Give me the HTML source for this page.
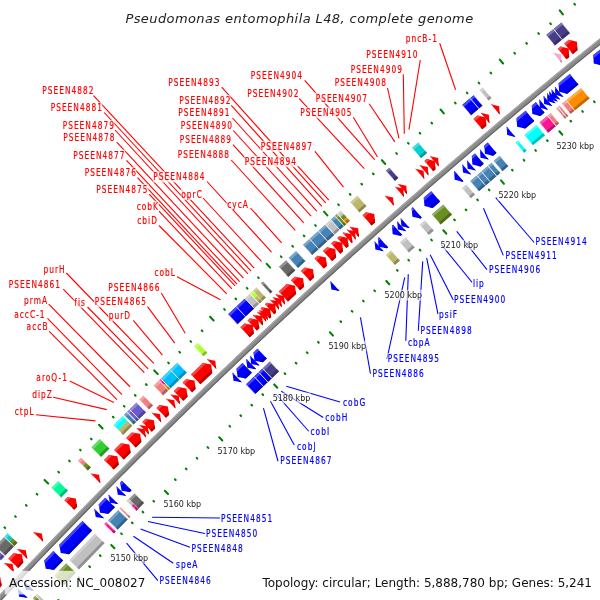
<!DOCTYPE html>
<html><head><meta charset="utf-8"><style>
body{margin:0;background:#fff}
svg{display:block}
.lab text{font-family:"DejaVu Sans Condensed","DejaVu Sans",sans-serif;font-size:9.6px;font-stretch:condensed;letter-spacing:1.2px;stroke-width:0.18px}
.kbp text{font-family:"DejaVu Sans",sans-serif;font-size:8px;fill:#222}
.leg{font-family:"DejaVu Sans",sans-serif;font-size:12px;fill:#111}
.ttl{font-family:"DejaVu Sans",sans-serif;font-style:oblique;font-size:13px;fill:#222;letter-spacing:0.4px}
</style></head><body>
<svg xmlns="http://www.w3.org/2000/svg" width="600" height="600" viewBox="0 0 600 600">
<rect width="600" height="600" fill="#fff"/>
<polygon points="-79.74,680.85 -77.17,678.00 -74.59,675.15 -72.01,672.30 -69.43,669.45 -66.84,666.61 -64.26,663.76 -61.67,660.92 -59.08,658.08 -56.49,655.24 -53.90,652.40 -51.30,649.57 -48.70,646.73 -46.11,643.90 -43.50,641.07 -40.90,638.24 -38.30,635.41 -35.69,632.59 -33.08,629.76 -30.47,626.94 -27.86,624.12 -25.25,621.30 -22.63,618.48 -20.02,615.67 -17.40,612.85 -14.78,610.04 -12.15,607.23 -9.53,604.42 -6.90,601.61 -4.28,598.81 -1.65,596.00 0.99,593.20 3.62,590.40 6.25,587.60 8.89,584.81 11.53,582.01 14.17,579.22 16.81,576.43 19.46,573.64 22.10,570.85 24.75,568.06 27.40,565.28 30.05,562.49 32.71,559.71 35.36,556.93 38.02,554.16 40.68,551.38 43.34,548.60 46.00,545.83 48.67,543.06 51.33,540.29 54.00,537.52 56.67,534.76 59.34,531.99 62.01,529.23 64.69,526.47 67.37,523.71 70.04,520.96 72.73,518.20 75.41,515.45 78.09,512.69 80.78,509.94 83.47,507.20 86.15,504.45 88.85,501.70 91.54,498.96 94.23,496.22 96.93,493.48 99.63,490.74 102.33,488.01 105.03,485.27 107.73,482.54 110.44,479.81 113.15,477.08 115.86,474.35 118.57,471.63 121.28,468.90 123.99,466.18 126.71,463.46 129.43,460.74 132.15,458.02 134.87,455.31 137.59,452.60 140.32,449.89 143.04,447.18 145.77,444.47 148.50,441.76 151.23,439.06 153.97,436.35 156.70,433.65 159.44,430.95 162.18,428.26 164.92,425.56 167.66,422.87 170.41,420.18 173.15,417.49 175.90,414.80 178.65,412.11 181.40,409.43 184.15,406.74 186.91,404.06 189.66,401.38 192.42,398.71 195.18,396.03 197.94,393.36 200.71,390.68 203.47,388.01 206.24,385.35 209.01,382.68 211.78,380.01 214.55,377.35 217.32,374.69 220.10,372.03 222.88,369.37 225.66,366.72 228.44,364.06 231.22,361.41 234.00,358.76 236.79,356.11 239.58,353.46 242.37,350.82 245.16,348.17 247.95,345.53 250.74,342.89 253.54,340.26 256.34,337.62 259.14,334.99 261.94,332.35 264.74,329.72 267.55,327.09 270.35,324.47 273.16,321.84 275.97,319.22 278.78,316.60 281.60,313.98 284.41,311.36 287.23,308.74 290.05,306.13 292.87,303.52 295.69,300.91 298.51,298.30 301.34,295.69 304.16,293.09 306.99,290.48 309.82,287.88 312.65,285.28 315.49,282.68 318.32,280.09 321.16,277.50 324.00,274.90 326.84,272.31 329.68,269.72 332.53,267.14 335.37,264.55 338.22,261.97 341.07,259.39 343.92,256.81 346.77,254.23 349.62,251.66 352.48,249.08 355.34,246.51 358.19,243.94 361.06,241.37 363.92,238.81 366.78,236.24 369.65,233.68 372.51,231.12 375.38,228.56 378.25,226.01 381.13,223.45 384.00,220.90 386.87,218.35 389.75,215.80 392.63,213.25 395.51,210.70 398.39,208.16 401.28,205.62 404.16,203.08 407.05,200.54 409.94,198.01 412.83,195.47 415.72,192.94 418.61,190.41 421.51,187.88 424.41,185.35 427.31,182.83 430.21,180.30 433.11,177.78 436.01,175.26 438.92,172.75 441.82,170.23 444.73,167.72 447.64,165.21 450.55,162.70 453.47,160.19 456.38,157.68 459.30,155.18 462.22,152.68 465.14,150.18 468.06,147.68 470.98,145.18 473.90,142.69 476.83,140.19 479.76,137.70 482.69,135.21 485.62,132.73 488.55,130.24 491.49,127.76 494.42,125.28 497.36,122.80 500.30,120.32 503.24,117.84 506.18,115.37 509.13,112.90 512.07,110.43 515.02,107.96 517.97,105.50 520.92,103.03 523.87,100.57 526.83,98.11 529.78,95.65 532.74,93.19 535.70,90.74 538.66,88.29 541.62,85.84 544.58,83.39 547.55,80.94 550.51,78.50 553.48,76.05 556.45,73.61 559.42,71.17 562.39,68.74 565.37,66.30 568.34,63.87 571.32,61.44 574.30,59.01 577.28,56.58 580.26,54.16 583.25,51.73 586.23,49.31 589.22,46.89 592.21,44.47 595.20,42.06 598.19,39.64 601.18,37.23 604.18,34.82 607.18,32.41 610.17,30.01 613.17,27.60 616.17,25.20 619.18,22.80 622.18,20.40 625.19,18.01 628.19,15.61 631.20,13.22 634.21,10.83 637.23,8.44 640.24,6.05 643.25,3.67 646.27,1.29 649.29,-1.09 652.31,-3.47 655.33,-5.85 658.35,-8.22 661.38,-10.60 664.40,-12.97 667.43,-15.34 670.46,-17.70 673.49,-20.07 676.52,-22.43 679.56,-24.79 682.59,-27.15 685.63,-29.51 688.67,-31.86 691.71,-34.22 694.75,-36.57 697.79,-38.92 700.83,-41.26 703.88,-43.61 706.93,-45.95 709.98,-48.29 713.03,-50.63 716.08,-52.97 719.13,-55.30 722.19,-57.64 725.24,-59.97 728.30,-62.30 731.36,-64.62 734.42,-66.95 737.48,-69.27 740.55,-71.59 743.75,-67.37 740.69,-65.05 737.63,-62.73 734.57,-60.41 731.51,-58.08 728.46,-55.75 725.40,-53.42 722.35,-51.09 719.30,-48.76 716.25,-46.42 713.20,-44.09 710.16,-41.75 707.11,-39.41 704.07,-37.06 701.03,-34.72 697.99,-32.37 694.95,-30.02 691.91,-27.67 688.88,-25.32 685.84,-22.96 682.81,-20.61 679.78,-18.25 676.75,-15.89 673.72,-13.53 670.69,-11.16 667.67,-8.79 664.65,-6.43 661.63,-4.05 658.61,-1.68 655.59,0.69 652.57,3.07 649.55,5.45 646.54,7.83 643.53,10.21 640.52,12.59 637.51,14.98 634.50,17.37 631.49,19.76 628.49,22.15 625.49,24.55 622.48,26.94 619.48,29.34 616.49,31.74 613.49,34.14 610.49,36.55 607.50,38.95 604.51,41.36 601.52,43.77 598.53,46.18 595.54,48.59 592.55,51.01 589.57,53.43 586.59,55.85 583.61,58.27 580.63,60.69 577.65,63.12 574.67,65.54 571.70,67.97 568.72,70.40 565.75,72.84 562.78,75.27 559.81,77.71 556.85,80.15 553.88,82.59 550.92,85.03 547.96,87.48 545.00,89.92 542.04,92.37 539.08,94.82 536.12,97.27 533.17,99.73 530.22,102.18 527.26,104.64 524.32,107.10 521.37,109.56 518.42,112.03 515.48,114.49 512.53,116.96 509.59,119.43 506.65,121.90 503.71,124.37 500.78,126.85 497.84,129.33 494.91,131.81 491.98,134.29 489.05,136.77 486.12,139.25 483.19,141.74 480.27,144.23 477.34,146.72 474.42,149.21 471.50,151.71 468.58,154.20 465.66,156.70 462.75,159.20 459.83,161.70 456.92,164.21 454.01,166.71 451.10,169.22 448.20,171.73 445.29,174.24 442.39,176.75 439.48,179.27 436.58,181.79 433.68,184.30 430.78,186.83 427.89,189.35 424.99,191.87 422.10,194.40 419.21,196.93 416.32,199.46 413.43,201.99 410.55,204.52 407.66,207.06 404.78,209.60 401.90,212.14 399.02,214.68 396.14,217.22 393.27,219.77 390.39,222.31 387.52,224.86 384.65,227.41 381.78,229.97 378.91,232.52 376.04,235.08 373.18,237.63 370.32,240.19 367.45,242.76 364.59,245.32 361.74,247.89 358.88,250.45 356.03,253.02 353.17,255.59 350.32,258.17 347.47,260.74 344.62,263.32 341.78,265.90 338.93,268.48 336.09,271.06 333.25,273.64 330.41,276.23 327.57,278.82 324.74,281.41 321.90,284.00 319.07,286.59 316.24,289.19 313.41,291.79 310.58,294.38 307.75,296.98 304.93,299.59 302.11,302.19 299.29,304.80 296.47,307.41 293.65,310.02 290.83,312.63 288.02,315.24 285.21,317.86 282.40,320.47 279.59,323.09 276.78,325.71 273.97,328.34 271.17,330.96 268.37,333.59 265.57,336.22 262.77,338.85 259.97,341.48 257.18,344.11 254.38,346.75 251.59,349.38 248.80,352.02 246.01,354.66 243.22,357.31 240.44,359.95 237.66,362.60 234.87,365.25 232.09,367.90 229.32,370.55 226.54,373.20 223.77,375.86 220.99,378.51 218.22,381.17 215.45,383.83 212.68,386.50 209.92,389.16 207.15,391.83 204.39,394.50 201.63,397.17 198.87,399.84 196.11,402.51 193.36,405.19 190.60,407.86 187.85,410.54 185.10,413.22 182.35,415.90 179.60,418.59 176.86,421.27 174.12,423.96 171.37,426.65 168.63,429.34 165.90,432.04 163.16,434.73 160.42,437.43 157.69,440.13 154.96,442.83 152.23,445.53 149.50,448.23 146.78,450.94 144.05,453.64 141.33,456.35 138.61,459.06 135.89,461.78 133.17,464.49 130.46,467.21 127.74,469.92 125.03,472.64 122.32,475.37 119.61,478.09 116.91,480.81 114.20,483.54 111.50,486.27 108.80,489.00 106.10,491.73 103.40,494.46 100.71,497.20 98.01,499.94 95.32,502.68 92.63,505.42 89.94,508.16 87.25,510.90 84.57,513.65 81.88,516.40 79.20,519.15 76.52,521.90 73.85,524.65 71.17,527.40 68.49,530.16 65.82,532.92 63.15,535.68 60.48,538.44 57.81,541.20 55.15,543.97 52.49,546.74 49.82,549.50 47.16,552.27 44.50,555.05 41.85,557.82 39.19,560.60 36.54,563.37 33.89,566.15 31.24,568.93 28.59,571.71 25.95,574.50 23.30,577.28 20.66,580.07 18.02,582.86 15.38,585.65 12.75,588.44 10.11,591.24 7.48,594.03 4.85,596.83 2.22,599.63 -0.41,602.43 -3.04,605.24 -5.66,608.04 -8.28,610.85 -10.90,613.66 -13.52,616.46 -16.14,619.28 -18.75,622.09 -21.36,624.90 -23.97,627.72 -26.58,630.54 -29.19,633.36 -31.80,636.18 -34.40,639.00 -37.00,641.83 -39.60,644.66 -42.20,647.48 -44.80,650.31 -47.39,653.15 -49.98,655.98 -52.58,658.81 -55.16,661.65 -57.75,664.49 -60.34,667.33 -62.92,670.17 -65.50,673.01 -68.08,675.86 -70.66,678.71 -73.24,681.56 -75.81,684.41" fill="#8c8c8c"/>
<polygon points="-79.74,680.85 -77.17,678.00 -74.59,675.15 -72.01,672.30 -69.43,669.45 -66.84,666.61 -64.26,663.76 -61.67,660.92 -59.08,658.08 -56.49,655.24 -53.90,652.40 -51.30,649.57 -48.70,646.73 -46.11,643.90 -43.50,641.07 -40.90,638.24 -38.30,635.41 -35.69,632.59 -33.08,629.76 -30.47,626.94 -27.86,624.12 -25.25,621.30 -22.63,618.48 -20.02,615.67 -17.40,612.85 -14.78,610.04 -12.15,607.23 -9.53,604.42 -6.90,601.61 -4.28,598.81 -1.65,596.00 0.99,593.20 3.62,590.40 6.25,587.60 8.89,584.81 11.53,582.01 14.17,579.22 16.81,576.43 19.46,573.64 22.10,570.85 24.75,568.06 27.40,565.28 30.05,562.49 32.71,559.71 35.36,556.93 38.02,554.16 40.68,551.38 43.34,548.60 46.00,545.83 48.67,543.06 51.33,540.29 54.00,537.52 56.67,534.76 59.34,531.99 62.01,529.23 64.69,526.47 67.37,523.71 70.04,520.96 72.73,518.20 75.41,515.45 78.09,512.69 80.78,509.94 83.47,507.20 86.15,504.45 88.85,501.70 91.54,498.96 94.23,496.22 96.93,493.48 99.63,490.74 102.33,488.01 105.03,485.27 107.73,482.54 110.44,479.81 113.15,477.08 115.86,474.35 118.57,471.63 121.28,468.90 123.99,466.18 126.71,463.46 129.43,460.74 132.15,458.02 134.87,455.31 137.59,452.60 140.32,449.89 143.04,447.18 145.77,444.47 148.50,441.76 151.23,439.06 153.97,436.35 156.70,433.65 159.44,430.95 162.18,428.26 164.92,425.56 167.66,422.87 170.41,420.18 173.15,417.49 175.90,414.80 178.65,412.11 181.40,409.43 184.15,406.74 186.91,404.06 189.66,401.38 192.42,398.71 195.18,396.03 197.94,393.36 200.71,390.68 203.47,388.01 206.24,385.35 209.01,382.68 211.78,380.01 214.55,377.35 217.32,374.69 220.10,372.03 222.88,369.37 225.66,366.72 228.44,364.06 231.22,361.41 234.00,358.76 236.79,356.11 239.58,353.46 242.37,350.82 245.16,348.17 247.95,345.53 250.74,342.89 253.54,340.26 256.34,337.62 259.14,334.99 261.94,332.35 264.74,329.72 267.55,327.09 270.35,324.47 273.16,321.84 275.97,319.22 278.78,316.60 281.60,313.98 284.41,311.36 287.23,308.74 290.05,306.13 292.87,303.52 295.69,300.91 298.51,298.30 301.34,295.69 304.16,293.09 306.99,290.48 309.82,287.88 312.65,285.28 315.49,282.68 318.32,280.09 321.16,277.50 324.00,274.90 326.84,272.31 329.68,269.72 332.53,267.14 335.37,264.55 338.22,261.97 341.07,259.39 343.92,256.81 346.77,254.23 349.62,251.66 352.48,249.08 355.34,246.51 358.19,243.94 361.06,241.37 363.92,238.81 366.78,236.24 369.65,233.68 372.51,231.12 375.38,228.56 378.25,226.01 381.13,223.45 384.00,220.90 386.87,218.35 389.75,215.80 392.63,213.25 395.51,210.70 398.39,208.16 401.28,205.62 404.16,203.08 407.05,200.54 409.94,198.01 412.83,195.47 415.72,192.94 418.61,190.41 421.51,187.88 424.41,185.35 427.31,182.83 430.21,180.30 433.11,177.78 436.01,175.26 438.92,172.75 441.82,170.23 444.73,167.72 447.64,165.21 450.55,162.70 453.47,160.19 456.38,157.68 459.30,155.18 462.22,152.68 465.14,150.18 468.06,147.68 470.98,145.18 473.90,142.69 476.83,140.19 479.76,137.70 482.69,135.21 485.62,132.73 488.55,130.24 491.49,127.76 494.42,125.28 497.36,122.80 500.30,120.32 503.24,117.84 506.18,115.37 509.13,112.90 512.07,110.43 515.02,107.96 517.97,105.50 520.92,103.03 523.87,100.57 526.83,98.11 529.78,95.65 532.74,93.19 535.70,90.74 538.66,88.29 541.62,85.84 544.58,83.39 547.55,80.94 550.51,78.50 553.48,76.05 556.45,73.61 559.42,71.17 562.39,68.74 565.37,66.30 568.34,63.87 571.32,61.44 574.30,59.01 577.28,56.58 580.26,54.16 583.25,51.73 586.23,49.31 589.22,46.89 592.21,44.47 595.20,42.06 598.19,39.64 601.18,37.23 604.18,34.82 607.18,32.41 610.17,30.01 613.17,27.60 616.17,25.20 619.18,22.80 622.18,20.40 625.19,18.01 628.19,15.61 631.20,13.22 634.21,10.83 637.23,8.44 640.24,6.05 643.25,3.67 646.27,1.29 649.29,-1.09 652.31,-3.47 655.33,-5.85 658.35,-8.22 661.38,-10.60 664.40,-12.97 667.43,-15.34 670.46,-17.70 673.49,-20.07 676.52,-22.43 679.56,-24.79 682.59,-27.15 685.63,-29.51 688.67,-31.86 691.71,-34.22 694.75,-36.57 697.79,-38.92 700.83,-41.26 703.88,-43.61 706.93,-45.95 709.98,-48.29 713.03,-50.63 716.08,-52.97 719.13,-55.30 722.19,-57.64 725.24,-59.97 728.30,-62.30 731.36,-64.62 734.42,-66.95 737.48,-69.27 740.55,-71.59 741.25,-70.67 738.19,-68.34 735.13,-66.02 732.07,-63.70 729.01,-61.37 725.95,-59.04 722.89,-56.71 719.84,-54.38 716.79,-52.04 713.74,-49.71 710.69,-47.37 707.64,-45.03 704.59,-42.68 701.55,-40.34 698.50,-37.99 695.46,-35.64 692.42,-33.29 689.38,-30.94 686.34,-28.59 683.31,-26.23 680.27,-23.87 677.24,-21.51 674.21,-19.15 671.18,-16.78 668.15,-14.42 665.12,-12.05 662.10,-9.68 659.07,-7.31 656.05,-4.93 653.03,-2.56 650.01,-0.18 646.99,2.20 643.98,4.58 640.96,6.97 637.95,9.35 634.94,11.74 631.93,14.13 628.92,16.52 625.91,18.92 622.91,21.31 619.90,23.71 616.90,26.11 613.90,28.51 610.90,30.92 607.91,33.32 604.91,35.73 601.92,38.14 598.92,40.55 595.93,42.96 592.94,45.38 589.95,47.80 586.97,50.22 583.98,52.64 581.00,55.06 578.02,57.48 575.04,59.91 572.06,62.34 569.08,64.77 566.11,67.20 563.13,69.64 560.16,72.08 557.19,74.51 554.22,76.95 551.25,79.40 548.29,81.84 545.32,84.29 542.36,86.74 539.40,89.19 536.44,91.64 533.48,94.09 530.53,96.55 527.57,99.01 524.62,101.47 521.67,103.93 518.72,106.39 515.77,108.86 512.82,111.32 509.88,113.79 506.93,116.26 503.99,118.74 501.05,121.21 498.11,123.69 495.18,126.17 492.24,128.65 489.31,131.13 486.37,133.62 483.44,136.10 480.51,138.59 477.59,141.08 474.66,143.57 471.74,146.07 468.81,148.56 465.89,151.06 462.97,153.56 460.06,156.06 457.14,158.57 454.23,161.07 451.31,163.58 448.40,166.09 445.49,168.60 442.59,171.11 439.68,173.63 436.77,176.15 433.87,178.66 430.97,181.18 428.07,183.71 425.17,186.23 422.28,188.76 419.38,191.29 416.49,193.82 413.60,196.35 410.71,198.88 407.82,201.42 404.93,203.95 402.05,206.49 399.16,209.04 396.28,211.58 393.40,214.12 390.52,216.67 387.65,219.22 384.77,221.77 381.90,224.32 379.03,226.88 376.16,229.43 373.29,231.99 370.42,234.55 367.56,237.11 364.70,239.68 361.83,242.24 358.97,244.81 356.12,247.38 353.26,249.95 350.40,252.52 347.55,255.10 344.70,257.68 341.85,260.25 339.00,262.83 336.15,265.42 333.31,268.00 330.47,270.59 327.63,273.17 324.79,275.76 321.95,278.36 319.11,280.95 316.28,283.54 313.44,286.14 310.61,288.74 307.78,291.34 304.95,293.94 302.13,296.55 299.30,299.15 296.48,301.76 293.66,304.37 290.84,306.98 288.02,309.60 285.21,312.21 282.39,314.83 279.58,317.45 276.77,320.07 273.96,322.69 271.15,325.32 268.34,327.94 265.54,330.57 262.74,333.20 259.94,335.83 257.14,338.47 254.34,341.10 251.54,343.74 248.75,346.38 245.96,349.02 243.17,351.66 240.38,354.31 237.59,356.95 234.81,359.60 232.02,362.25 229.24,364.91 226.46,367.56 223.68,370.21 220.91,372.87 218.13,375.53 215.36,378.19 212.59,380.85 209.82,383.52 207.05,386.18 204.28,388.85 201.52,391.52 198.75,394.19 195.99,396.87 193.23,399.54 190.48,402.22 187.72,404.90 184.97,407.58 182.21,410.26 179.46,412.95 176.71,415.63 173.97,418.32 171.22,421.01 168.48,423.70 165.74,426.39 163.00,429.09 160.26,431.79 157.52,434.48 154.79,437.18 152.05,439.89 149.32,442.59 146.59,445.30 143.86,448.00 141.14,450.71 138.41,453.42 135.69,456.14 132.97,458.85 130.25,461.57 127.53,464.28 124.82,467.00 122.10,469.73 119.39,472.45 116.68,475.17 113.97,477.90 111.27,480.63 108.56,483.36 105.86,486.09 103.16,488.83 100.46,491.56 97.76,494.30 95.06,497.04 92.37,499.78 89.68,502.52 86.99,505.27 84.30,508.01 81.61,510.76 78.93,513.51 76.24,516.26 73.56,519.01 70.88,521.77 68.20,524.52 65.53,527.28 62.85,530.04 60.18,532.80 57.51,535.57 54.84,538.33 52.17,541.10 49.51,543.87 46.84,546.64 44.18,549.41 41.52,552.19 38.86,554.96 36.21,557.74 33.55,560.52 30.90,563.30 28.25,566.08 25.60,568.87 22.95,571.65 20.30,574.44 17.66,577.23 15.02,580.02 12.38,582.81 9.74,585.61 7.10,588.40 4.47,591.20 1.83,594.00 -0.80,596.80 -3.43,599.61 -6.05,602.41 -8.68,605.22 -11.30,608.03 -13.92,610.84 -16.54,613.65 -19.16,616.46 -21.78,619.28 -24.39,622.09 -27.01,624.91 -29.62,627.73 -32.23,630.55 -34.84,633.38 -37.44,636.20 -40.04,639.03 -42.65,641.86 -45.25,644.69 -47.84,647.52 -50.44,650.35 -53.04,653.19 -55.63,656.03 -58.22,658.87 -60.81,661.71 -63.39,664.55 -65.98,667.39 -68.56,670.24 -71.15,673.08 -73.73,675.93 -76.30,678.78 -78.88,681.64" fill="#a8a8a8"/>
<polygon points="-76.79,683.52 -74.22,680.67 -71.64,677.82 -69.06,674.97 -66.48,672.12 -63.90,669.28 -61.32,666.44 -58.73,663.60 -56.14,660.76 -53.55,657.92 -50.96,655.08 -48.37,652.25 -45.77,649.42 -43.18,646.59 -40.58,643.76 -37.98,640.93 -35.38,638.11 -32.77,635.28 -30.16,632.46 -27.56,629.64 -24.95,626.82 -22.34,624.00 -19.72,621.19 -17.11,618.37 -14.49,615.56 -11.87,612.75 -9.25,609.94 -6.63,607.14 -4.00,604.33 -1.38,601.53 1.25,598.73 3.88,595.93 6.51,593.13 9.15,590.33 11.78,587.54 14.42,584.74 17.06,581.95 19.70,579.16 22.34,576.37 24.99,573.59 27.63,570.80 30.28,568.02 32.93,565.24 35.58,562.46 38.24,559.68 40.89,556.90 43.55,554.13 46.21,551.36 48.87,548.59 51.53,545.82 54.19,543.05 56.86,540.28 59.53,537.52 62.20,534.76 64.87,532.00 67.54,529.24 70.22,526.48 72.90,523.73 75.57,520.97 78.25,518.22 80.94,515.47 83.62,512.72 86.31,509.98 88.99,507.23 91.68,504.49 94.37,501.75 97.07,499.01 99.76,496.27 102.46,493.53 105.16,490.80 107.86,488.07 110.56,485.34 113.26,482.61 115.97,479.88 118.67,477.15 121.38,474.43 124.09,471.71 126.81,468.99 129.52,466.27 132.24,463.55 134.95,460.84 137.67,458.12 140.40,455.41 143.12,452.70 145.84,450.00 148.57,447.29 151.30,444.59 154.03,441.88 156.76,439.18 159.49,436.48 162.23,433.79 164.97,431.09 167.71,428.40 170.45,425.71 173.19,423.02 175.93,420.33 178.68,417.64 181.43,414.96 184.18,412.27 186.93,409.59 189.68,406.91 192.43,404.23 195.19,401.56 197.95,398.89 200.71,396.21 203.47,393.54 206.23,390.87 209.00,388.21 211.76,385.54 214.53,382.88 217.30,380.22 220.08,377.56 222.85,374.90 225.62,372.24 228.40,369.59 231.18,366.94 233.96,364.29 236.74,361.64 239.53,358.99 242.31,356.35 245.10,353.70 247.89,351.06 250.68,348.42 253.47,345.78 256.27,343.15 259.06,340.51 261.86,337.88 264.66,335.25 267.46,332.62 270.26,329.99 273.07,327.37 275.88,324.75 278.68,322.12 281.49,319.50 284.30,316.89 287.12,314.27 289.93,311.66 292.75,309.04 295.57,306.43 298.39,303.83 301.21,301.22 304.03,298.61 306.86,296.01 309.68,293.41 312.51,290.81 315.34,288.21 318.17,285.62 321.01,283.02 323.84,280.43 326.68,277.84 329.52,275.25 332.36,272.66 335.20,270.08 338.04,267.50 340.89,264.92 343.73,262.34 346.58,259.76 349.43,257.18 352.29,254.61 355.14,252.04 357.99,249.47 360.85,246.90 363.71,244.33 366.57,241.77 369.43,239.21 372.30,236.65 375.16,234.09 378.03,231.53 380.90,228.98 383.77,226.42 386.64,223.87 389.51,221.32 392.39,218.77 395.26,216.23 398.14,213.68 401.02,211.14 403.90,208.60 406.79,206.06 409.67,203.53 412.56,200.99 415.45,198.46 418.34,195.93 421.23,193.40 424.12,190.87 427.02,188.35 429.91,185.83 432.81,183.30 435.71,180.78 438.61,178.27 441.52,175.75 444.42,173.24 447.33,170.73 450.24,168.22 453.15,165.71 456.06,163.20 458.97,160.70 461.89,158.19 464.80,155.69 467.72,153.20 470.64,150.70 473.56,148.20 476.48,145.71 479.41,143.22 482.33,140.73 485.26,138.24 488.19,135.76 491.12,133.28 494.05,130.79 496.99,128.31 499.92,125.84 502.86,123.36 505.80,120.89 508.74,118.41 511.68,115.94 514.63,113.48 517.57,111.01 520.52,108.55 523.47,106.08 526.42,103.62 529.37,101.16 532.32,98.71 535.28,96.25 538.23,93.80 541.19,91.35 544.15,88.90 547.11,86.45 550.07,84.01 553.04,81.57 556.01,79.12 558.97,76.68 561.94,74.25 564.91,71.81 567.89,69.38 570.86,66.95 573.83,64.52 576.81,62.09 579.79,59.66 582.77,57.24 585.75,54.82 588.74,52.40 591.72,49.98 594.71,47.56 597.70,45.15 600.69,42.74 603.68,40.33 606.67,37.92 609.66,35.51 612.66,33.11 615.66,30.71 618.66,28.31 621.66,25.91 624.66,23.51 627.66,21.12 630.67,18.72 633.68,16.33 636.68,13.94 639.69,11.56 642.71,9.17 645.72,6.79 648.73,4.41 651.75,2.03 654.77,-0.35 657.79,-2.72 660.81,-5.10 663.83,-7.47 666.85,-9.84 669.88,-12.20 672.91,-14.57 675.93,-16.93 678.96,-19.29 682.00,-21.65 685.03,-24.01 688.06,-26.37 691.10,-28.72 694.14,-31.07 697.18,-33.42 700.22,-35.77 703.26,-38.11 706.30,-40.46 709.35,-42.80 712.40,-45.14 715.44,-47.48 718.49,-49.81 721.55,-52.15 724.60,-54.48 727.65,-56.81 730.71,-59.13 733.77,-61.46 736.83,-63.78 739.89,-66.11 742.95,-68.43 743.75,-67.37 740.69,-65.05 737.63,-62.73 734.57,-60.41 731.51,-58.08 728.46,-55.75 725.40,-53.42 722.35,-51.09 719.30,-48.76 716.25,-46.42 713.20,-44.09 710.16,-41.75 707.11,-39.41 704.07,-37.06 701.03,-34.72 697.99,-32.37 694.95,-30.02 691.91,-27.67 688.88,-25.32 685.84,-22.96 682.81,-20.61 679.78,-18.25 676.75,-15.89 673.72,-13.53 670.69,-11.16 667.67,-8.79 664.65,-6.43 661.63,-4.05 658.61,-1.68 655.59,0.69 652.57,3.07 649.55,5.45 646.54,7.83 643.53,10.21 640.52,12.59 637.51,14.98 634.50,17.37 631.49,19.76 628.49,22.15 625.49,24.55 622.48,26.94 619.48,29.34 616.49,31.74 613.49,34.14 610.49,36.55 607.50,38.95 604.51,41.36 601.52,43.77 598.53,46.18 595.54,48.59 592.55,51.01 589.57,53.43 586.59,55.85 583.61,58.27 580.63,60.69 577.65,63.12 574.67,65.54 571.70,67.97 568.72,70.40 565.75,72.84 562.78,75.27 559.81,77.71 556.85,80.15 553.88,82.59 550.92,85.03 547.96,87.48 545.00,89.92 542.04,92.37 539.08,94.82 536.12,97.27 533.17,99.73 530.22,102.18 527.26,104.64 524.32,107.10 521.37,109.56 518.42,112.03 515.48,114.49 512.53,116.96 509.59,119.43 506.65,121.90 503.71,124.37 500.78,126.85 497.84,129.33 494.91,131.81 491.98,134.29 489.05,136.77 486.12,139.25 483.19,141.74 480.27,144.23 477.34,146.72 474.42,149.21 471.50,151.71 468.58,154.20 465.66,156.70 462.75,159.20 459.83,161.70 456.92,164.21 454.01,166.71 451.10,169.22 448.20,171.73 445.29,174.24 442.39,176.75 439.48,179.27 436.58,181.79 433.68,184.30 430.78,186.83 427.89,189.35 424.99,191.87 422.10,194.40 419.21,196.93 416.32,199.46 413.43,201.99 410.55,204.52 407.66,207.06 404.78,209.60 401.90,212.14 399.02,214.68 396.14,217.22 393.27,219.77 390.39,222.31 387.52,224.86 384.65,227.41 381.78,229.97 378.91,232.52 376.04,235.08 373.18,237.63 370.32,240.19 367.45,242.76 364.59,245.32 361.74,247.89 358.88,250.45 356.03,253.02 353.17,255.59 350.32,258.17 347.47,260.74 344.62,263.32 341.78,265.90 338.93,268.48 336.09,271.06 333.25,273.64 330.41,276.23 327.57,278.82 324.74,281.41 321.90,284.00 319.07,286.59 316.24,289.19 313.41,291.79 310.58,294.38 307.75,296.98 304.93,299.59 302.11,302.19 299.29,304.80 296.47,307.41 293.65,310.02 290.83,312.63 288.02,315.24 285.21,317.86 282.40,320.47 279.59,323.09 276.78,325.71 273.97,328.34 271.17,330.96 268.37,333.59 265.57,336.22 262.77,338.85 259.97,341.48 257.18,344.11 254.38,346.75 251.59,349.38 248.80,352.02 246.01,354.66 243.22,357.31 240.44,359.95 237.66,362.60 234.87,365.25 232.09,367.90 229.32,370.55 226.54,373.20 223.77,375.86 220.99,378.51 218.22,381.17 215.45,383.83 212.68,386.50 209.92,389.16 207.15,391.83 204.39,394.50 201.63,397.17 198.87,399.84 196.11,402.51 193.36,405.19 190.60,407.86 187.85,410.54 185.10,413.22 182.35,415.90 179.60,418.59 176.86,421.27 174.12,423.96 171.37,426.65 168.63,429.34 165.90,432.04 163.16,434.73 160.42,437.43 157.69,440.13 154.96,442.83 152.23,445.53 149.50,448.23 146.78,450.94 144.05,453.64 141.33,456.35 138.61,459.06 135.89,461.78 133.17,464.49 130.46,467.21 127.74,469.92 125.03,472.64 122.32,475.37 119.61,478.09 116.91,480.81 114.20,483.54 111.50,486.27 108.80,489.00 106.10,491.73 103.40,494.46 100.71,497.20 98.01,499.94 95.32,502.68 92.63,505.42 89.94,508.16 87.25,510.90 84.57,513.65 81.88,516.40 79.20,519.15 76.52,521.90 73.85,524.65 71.17,527.40 68.49,530.16 65.82,532.92 63.15,535.68 60.48,538.44 57.81,541.20 55.15,543.97 52.49,546.74 49.82,549.50 47.16,552.27 44.50,555.05 41.85,557.82 39.19,560.60 36.54,563.37 33.89,566.15 31.24,568.93 28.59,571.71 25.95,574.50 23.30,577.28 20.66,580.07 18.02,582.86 15.38,585.65 12.75,588.44 10.11,591.24 7.48,594.03 4.85,596.83 2.22,599.63 -0.41,602.43 -3.04,605.24 -5.66,608.04 -8.28,610.85 -10.90,613.66 -13.52,616.46 -16.14,619.28 -18.75,622.09 -21.36,624.90 -23.97,627.72 -26.58,630.54 -29.19,633.36 -31.80,636.18 -34.40,639.00 -37.00,641.83 -39.60,644.66 -42.20,647.48 -44.80,650.31 -47.39,653.15 -49.98,655.98 -52.58,658.81 -55.16,661.65 -57.75,664.49 -60.34,667.33 -62.92,670.17 -65.50,673.01 -68.08,675.86 -70.66,678.71 -73.24,681.56 -75.81,684.41" fill="#696969"/>
<polygon points="0.79,560.19 4.51,556.27 -5.28,546.97 -9.01,550.90" fill="#6a5acd"/>
<polygon points="0.79,560.19 4.51,556.27 2.55,554.41 -1.17,558.33" fill="#50449a"/>
<polygon points="-7.15,552.67 -3.42,548.74 -5.28,546.97 -9.01,550.90" fill="#9488db"/>
<polygon points="5.15,555.60 14.08,546.20 4.31,536.89 -4.64,546.30" fill="#696969"/>
<polygon points="5.15,555.60 14.08,546.20 12.13,544.34 3.19,553.74" fill="#4f4f4f"/>
<polygon points="-2.78,548.07 6.17,538.66 4.31,536.89 -4.64,546.30" fill="#939393"/>
<polygon points="9.20,541.54 12.67,537.91 7.79,533.25 4.31,536.89" fill="#00ced1"/>
<polygon points="6.17,538.66 9.64,535.02 7.79,533.25 4.31,536.89" fill="#47dcde"/>
<polygon points="14.08,546.20 17.55,542.57 12.67,537.91 9.20,541.54" fill="#6b8e23"/>
<polygon points="14.08,546.20 17.55,542.57 15.60,540.71 12.13,544.34" fill="#506a1a"/>
<polygon points="61.07,497.49 67.98,490.42 58.33,480.98 51.41,488.06" fill="#00fa9a"/>
<polygon points="61.07,497.49 67.98,490.42 66.05,488.53 59.14,495.60" fill="#00bc74"/>
<polygon points="53.25,489.85 60.16,482.77 58.33,480.98 51.41,488.06" fill="#47fbb6"/>
<polygon points="82.88,465.65 86.08,462.41 81.28,457.66 78.08,460.90" fill="#f08080"/>
<polygon points="79.90,462.71 83.11,459.46 81.28,457.66 78.08,460.90" fill="#f4a4a4"/>
<polygon points="87.68,470.39 90.88,467.16 86.08,462.41 82.88,465.65" fill="#6b8e23"/>
<polygon points="87.68,470.39 90.88,467.16 88.96,465.26 85.76,468.50" fill="#506a1a"/>
<polygon points="100.94,457.02 109.47,448.45 99.92,438.91 91.36,447.50" fill="#32cd32"/>
<polygon points="100.94,457.02 109.47,448.45 107.56,446.55 99.02,455.12" fill="#269a26"/>
<polygon points="93.18,449.31 101.73,440.73 99.92,438.91 91.36,447.50" fill="#6bdb6b"/>
<polygon points="118.29,430.11 127.66,420.81 122.91,416.02 113.53,425.33" fill="#00ffff"/>
<polygon points="115.34,427.15 124.72,417.84 122.91,416.02 113.53,425.33" fill="#47ffff"/>
<polygon points="123.05,434.90 132.41,425.61 127.66,420.81 118.29,430.11" fill="#bdb76b"/>
<polygon points="123.05,434.90 132.41,425.61 130.51,423.69 121.15,432.99" fill="#8e8950"/>
<polygon points="133.42,424.61 136.22,421.83 126.73,412.23 123.92,415.02" fill="#4682b4"/>
<polygon points="133.42,424.61 136.22,421.83 134.33,419.91 131.52,422.69" fill="#346287"/>
<polygon points="125.72,416.84 128.54,414.06 126.73,412.23 123.92,415.02" fill="#7aa5c9"/>
<polygon points="136.65,421.41 138.99,419.11 129.50,409.50 127.16,411.81" fill="#6a5acd"/>
<polygon points="136.65,421.41 138.99,419.11 137.09,417.18 134.75,419.49" fill="#50449a"/>
<polygon points="128.96,413.63 131.30,411.32 129.50,409.50 127.16,411.81" fill="#9488db"/>
<polygon points="138.99,419.11 146.02,412.17 136.55,402.55 129.50,409.50" fill="#6a5acd"/>
<polygon points="138.99,419.11 146.02,412.17 144.13,410.25 137.09,417.18" fill="#50449a"/>
<polygon points="131.30,411.32 138.35,404.38 136.55,402.55 129.50,409.50" fill="#9488db"/>
<polygon points="148.84,409.40 153.05,405.26 143.60,395.62 139.37,399.77" fill="#f08080"/>
<polygon points="148.84,409.40 153.05,405.26 151.16,403.33 146.95,407.47" fill="#b46060"/>
<polygon points="141.17,401.60 145.39,397.46 143.60,395.62 139.37,399.77" fill="#f4a4a4"/>
<polygon points="163.05,395.48 168.46,390.21 159.04,380.53 153.61,385.82" fill="#f08080"/>
<polygon points="163.05,395.48 168.46,390.21 166.57,388.27 161.16,393.55" fill="#b46060"/>
<polygon points="155.41,387.66 160.83,382.37 159.04,380.53 153.61,385.82" fill="#f4a4a4"/>
<polygon points="163.75,385.37 165.58,383.58 160.88,378.74 159.04,380.53" fill="#ff1493"/>
<polygon points="160.83,382.37 162.67,380.58 160.88,378.74 159.04,380.53" fill="#ff56b1"/>
<polygon points="168.46,390.21 170.29,388.42 165.58,383.58 163.75,385.37" fill="#ff8c00"/>
<polygon points="168.46,390.21 170.29,388.42 168.41,386.48 166.57,388.27" fill="#bf6900"/>
<polygon points="170.29,388.42 179.48,379.49 170.09,369.80 160.88,378.74" fill="#00bfff"/>
<polygon points="170.29,388.42 179.48,379.49 177.60,377.56 168.41,386.48" fill="#008fbf"/>
<polygon points="162.67,380.58 171.87,371.64 170.09,369.80 160.88,378.74" fill="#47d1ff"/>
<polygon points="179.48,379.49 186.81,372.41 177.43,362.70 170.09,369.80" fill="#00bfff"/>
<polygon points="179.48,379.49 186.81,372.41 184.93,370.47 177.60,377.56" fill="#008fbf"/>
<polygon points="171.87,371.64 179.21,364.55 177.43,362.70 170.09,369.80" fill="#47d1ff"/>
<polygon points="203.53,356.33 207.40,352.63 198.07,342.87 194.19,346.58" fill="#adff2f"/>
<polygon points="203.53,356.33 207.40,352.63 205.53,350.68 201.67,354.38" fill="#82bf23"/>
<polygon points="195.97,348.43 199.84,344.72 198.07,342.87 194.19,346.58" fill="#c4ff69"/>
<polygon points="237.38,324.15 245.46,316.55 236.22,306.71 228.12,314.33" fill="#0000ff"/>
<polygon points="237.38,324.15 245.46,316.55 243.61,314.58 235.53,322.19" fill="#0000bf"/>
<polygon points="229.88,316.20 237.97,308.58 236.22,306.71 228.12,314.33" fill="#4747ff"/>
<polygon points="245.46,316.55 254.21,308.34 244.99,298.49 236.22,306.71" fill="#0000ff"/>
<polygon points="245.46,316.55 254.21,308.34 252.37,306.37 243.61,314.58" fill="#0000bf"/>
<polygon points="237.97,308.58 246.74,300.36 244.99,298.49 236.22,306.71" fill="#4747ff"/>
<polygon points="254.21,308.34 259.29,303.60 250.08,293.73 244.99,298.49" fill="#c0c0c0"/>
<polygon points="254.21,308.34 259.29,303.60 257.45,301.63 252.37,306.37" fill="#909090"/>
<polygon points="246.74,300.36 251.83,295.61 250.08,293.73 244.99,298.49" fill="#d2d2d2"/>
<polygon points="259.29,303.60 265.95,297.39 256.75,287.51 250.08,293.73" fill="#bdb76b"/>
<polygon points="259.29,303.60 265.95,297.39 264.11,295.41 257.45,301.63" fill="#8e8950"/>
<polygon points="251.83,295.61 258.50,289.39 256.75,287.51 250.08,293.73" fill="#cfcb94"/>
<polygon points="254.68,298.67 257.51,296.03 252.91,291.09 250.08,293.73" fill="#adff2f"/>
<polygon points="251.83,295.61 254.65,292.97 252.91,291.09 250.08,293.73" fill="#c4ff69"/>
<polygon points="259.29,303.60 262.11,300.97 257.51,296.03 254.68,298.67" fill="#bdb76b"/>
<polygon points="259.29,303.60 262.11,300.97 260.27,298.99 257.45,301.63" fill="#8e8950"/>
<polygon points="270.21,293.43 272.41,291.39 263.23,281.50 261.02,283.54" fill="#696969"/>
<polygon points="270.21,293.43 272.41,291.39 270.57,289.41 268.37,291.46" fill="#4f4f4f"/>
<polygon points="262.77,285.42 264.97,283.38 263.23,281.50 261.02,283.54" fill="#939393"/>
<polygon points="288.10,276.88 295.38,270.19 286.25,260.25 278.95,266.96" fill="#696969"/>
<polygon points="288.10,276.88 295.38,270.19 293.55,268.20 286.27,274.90" fill="#4f4f4f"/>
<polygon points="280.69,268.84 287.98,262.14 286.25,260.25 278.95,266.96" fill="#939393"/>
<polygon points="297.83,267.94 305.43,260.99 296.32,251.02 288.71,257.99" fill="#4682b4"/>
<polygon points="297.83,267.94 305.43,260.99 303.61,258.99 296.01,265.95" fill="#346287"/>
<polygon points="290.44,259.88 298.05,252.91 296.32,251.02 288.71,257.99" fill="#7aa5c9"/>
<polygon points="312.05,254.94 318.69,248.90 309.62,238.91 302.96,244.96" fill="#4682b4"/>
<polygon points="312.05,254.94 318.69,248.90 316.88,246.90 310.23,252.95" fill="#346287"/>
<polygon points="304.69,246.86 311.34,240.81 309.62,238.91 302.96,244.96" fill="#7aa5c9"/>
<polygon points="318.69,248.90 327.41,241.00 318.36,230.99 309.62,238.91" fill="#4682b4"/>
<polygon points="318.69,248.90 327.41,241.00 325.60,238.99 316.88,246.90" fill="#346287"/>
<polygon points="311.34,240.81 320.08,232.89 318.36,230.99 309.62,238.91" fill="#7aa5c9"/>
<polygon points="327.41,241.00 334.42,234.67 325.38,224.64 318.36,230.99" fill="#4682b4"/>
<polygon points="327.41,241.00 334.42,234.67 332.61,232.66 325.60,238.99" fill="#346287"/>
<polygon points="320.08,232.89 327.09,226.55 325.38,224.64 318.36,230.99" fill="#7aa5c9"/>
<polygon points="334.58,234.52 339.76,229.86 330.73,219.82 325.54,224.50" fill="#c0c0c0"/>
<polygon points="334.58,234.52 339.76,229.86 337.96,227.85 332.77,232.52" fill="#909090"/>
<polygon points="327.25,226.40 332.45,221.73 330.73,219.82 325.54,224.50" fill="#d2d2d2"/>
<polygon points="339.76,229.86 343.92,226.12 334.90,216.07 330.73,219.82" fill="#4682b4"/>
<polygon points="339.76,229.86 343.92,226.12 342.12,224.11 337.96,227.85" fill="#346287"/>
<polygon points="332.45,221.73 336.62,217.98 334.90,216.07 330.73,219.82" fill="#7aa5c9"/>
<polygon points="343.92,226.12 346.38,223.91 337.36,213.86 334.90,216.07" fill="#6b8e23"/>
<polygon points="343.92,226.12 346.38,223.91 344.57,221.90 342.12,224.11" fill="#506a1a"/>
<polygon points="336.62,217.98 339.07,215.77 337.36,213.86 334.90,216.07" fill="#94ae61"/>
<polygon points="340.37,217.21 343.97,213.99 340.97,210.63 337.36,213.86" fill="#c0c0c0"/>
<polygon points="339.07,215.77 342.68,212.54 340.97,210.63 337.36,213.86" fill="#d2d2d2"/>
<polygon points="343.37,220.56 346.97,217.34 343.97,213.99 340.37,217.21" fill="#6b8e23"/>
<polygon points="346.38,223.91 349.97,220.69 346.97,217.34 343.37,220.56" fill="#ff8c00"/>
<polygon points="346.38,223.91 349.97,220.69 348.17,218.68 344.57,221.90" fill="#bf6900"/>
<polygon points="359.25,212.40 366.52,205.93 357.55,195.84 350.27,202.32" fill="#bdb76b"/>
<polygon points="359.25,212.40 366.52,205.93 364.73,203.91 357.45,210.38" fill="#8e8950"/>
<polygon points="351.97,204.24 359.26,197.76 357.55,195.84 350.27,202.32" fill="#cfcb94"/>
<polygon points="394.79,180.97 398.38,177.81 389.49,167.66 385.88,170.82" fill="#483d8b"/>
<polygon points="394.79,180.97 398.38,177.81 396.60,175.78 393.00,178.94" fill="#362e68"/>
<polygon points="387.57,172.75 391.18,169.59 389.49,167.66 385.88,170.82" fill="#7b73ab"/>
<polygon points="420.92,158.17 427.16,152.77 418.33,142.56 412.08,147.97" fill="#00ced1"/>
<polygon points="420.92,158.17 427.16,152.77 425.39,150.73 419.15,156.13" fill="#009a9d"/>
<polygon points="413.76,149.91 420.01,144.50 418.33,142.56 412.08,147.97" fill="#47dcde"/>
<polygon points="470.96,115.27 478.85,108.59 470.14,98.27 462.23,104.97" fill="#0000ff"/>
<polygon points="470.96,115.27 478.85,108.59 477.11,106.52 469.21,113.21" fill="#0000bf"/>
<polygon points="463.89,106.93 471.79,100.23 470.14,98.27 462.23,104.97" fill="#4747ff"/>
<polygon points="478.85,108.59 482.48,105.52 473.78,95.20 470.14,98.27" fill="#0000ff"/>
<polygon points="478.85,108.59 482.48,105.52 480.74,103.45 477.11,106.52" fill="#0000bf"/>
<polygon points="471.79,100.23 475.43,97.16 473.78,95.20 470.14,98.27" fill="#4747ff"/>
<polygon points="488.38,100.55 491.52,97.91 482.83,87.58 479.69,90.22" fill="#c0c0c0"/>
<polygon points="488.38,100.55 491.52,97.91 489.78,95.85 486.64,98.49" fill="#909090"/>
<polygon points="481.34,92.18 484.48,89.54 482.83,87.58 479.69,90.22" fill="#d2d2d2"/>
<polygon points="554.72,45.56 562.09,39.55 553.56,29.08 546.18,35.10" fill="#483d8b"/>
<polygon points="554.72,45.56 562.09,39.55 560.38,37.46 553.01,43.47" fill="#362e68"/>
<polygon points="547.80,37.09 555.18,31.07 553.56,29.08 546.18,35.10" fill="#7b73ab"/>
<polygon points="562.09,39.55 570.07,33.06 561.57,22.58 553.56,29.08" fill="#483d8b"/>
<polygon points="562.09,39.55 570.07,33.06 568.37,30.96 560.38,37.46" fill="#362e68"/>
<polygon points="555.18,31.07 563.18,24.57 561.57,22.58 553.56,29.08" fill="#7b73ab"/>
<polygon points="42.51,607.61 45.14,604.83 35.48,595.69 32.85,598.47" fill="#6b8e23"/>
<polygon points="42.51,607.61 45.14,604.83 43.21,603.01 40.58,605.78" fill="#506a1a"/>
<polygon points="34.69,600.21 37.32,597.43 35.48,595.69 32.85,598.47" fill="#94ae61"/>
<polygon points="45.14,604.83 46.98,602.89 37.32,593.75 35.48,595.69" fill="#c0c0c0"/>
<polygon points="45.14,604.83 46.98,602.89 45.05,601.06 43.21,603.01" fill="#909090"/>
<polygon points="37.32,597.43 39.16,595.48 37.32,593.75 35.48,595.69" fill="#d2d2d2"/>
<polygon points="63.82,585.19 75.93,572.56 66.34,563.35 54.21,576.00" fill="#6b8e23"/>
<polygon points="63.82,585.19 75.93,572.56 74.01,570.72 61.90,583.36" fill="#506a1a"/>
<polygon points="56.03,577.75 68.16,565.10 66.34,563.35 54.21,576.00" fill="#94ae61"/>
<polygon points="78.86,569.52 104.60,542.94 95.08,533.66 69.28,560.29" fill="#c0c0c0"/>
<polygon points="78.86,569.52 104.60,542.94 102.70,541.09 76.94,567.67" fill="#909090"/>
<polygon points="71.10,562.04 96.89,535.42 95.08,533.66 69.28,560.29" fill="#d2d2d2"/>
<polygon points="113.71,533.62 115.89,531.40 106.40,522.08 104.21,524.32" fill="#ff1493"/>
<polygon points="113.71,533.62 115.89,531.40 113.99,529.53 111.81,531.76" fill="#bf0f6e"/>
<polygon points="106.02,526.08 108.20,523.85 106.40,522.08 104.21,524.32" fill="#ff56b1"/>
<polygon points="117.47,529.79 127.80,519.28 118.33,509.94 107.98,520.47" fill="#4682b4"/>
<polygon points="117.47,529.79 127.80,519.28 125.91,517.41 115.57,527.92" fill="#346287"/>
<polygon points="109.78,522.24 120.13,511.72 118.33,509.94 107.98,520.47" fill="#7aa5c9"/>
<polygon points="129.05,518.02 130.34,516.71 120.87,507.37 119.58,508.68" fill="#f08080"/>
<polygon points="129.05,518.02 130.34,516.71 128.44,514.85 127.15,516.15" fill="#b46060"/>
<polygon points="121.38,510.45 122.67,509.15 120.87,507.37 119.58,508.68" fill="#f4a4a4"/>
<polygon points="136.29,510.69 144.14,502.78 134.71,493.40 126.84,501.33" fill="#696969"/>
<polygon points="136.29,510.69 144.14,502.78 142.25,500.90 134.40,508.82" fill="#4f4f4f"/>
<polygon points="128.63,503.11 136.50,495.18 134.71,493.40 126.84,501.33" fill="#939393"/>
<polygon points="131.56,506.01 133.66,503.90 128.93,499.22 126.84,501.33" fill="#c0c0c0"/>
<polygon points="128.63,503.11 130.73,501.00 128.93,499.22 126.84,501.33" fill="#d2d2d2"/>
<polygon points="136.29,510.69 138.38,508.58 133.66,503.90 131.56,506.01" fill="#ff1493"/>
<polygon points="136.29,510.69 138.38,508.58 136.49,506.71 134.40,508.82" fill="#bf0f6e"/>
<polygon points="255.15,394.00 263.29,386.24 254.13,376.60 245.97,384.38" fill="#0000ff"/>
<polygon points="255.15,394.00 263.29,386.24 261.46,384.31 253.31,392.08" fill="#0000bf"/>
<polygon points="247.71,386.21 255.87,378.43 254.13,376.60 245.97,384.38" fill="#4747ff"/>
<polygon points="263.29,386.24 267.80,381.96 258.65,372.31 254.13,376.60" fill="#0000ff"/>
<polygon points="263.29,386.24 267.80,381.96 265.97,380.03 261.46,384.31" fill="#0000bf"/>
<polygon points="255.87,378.43 260.39,374.15 258.65,372.31 254.13,376.60" fill="#4747ff"/>
<polygon points="267.80,381.96 271.80,378.18 262.65,368.52 258.65,372.31" fill="#0000ff"/>
<polygon points="267.80,381.96 271.80,378.18 269.97,376.24 265.97,380.03" fill="#0000bf"/>
<polygon points="260.39,374.15 264.39,370.35 262.65,368.52 258.65,372.31" fill="#4747ff"/>
<polygon points="271.80,378.18 279.08,371.29 269.95,361.62 262.65,368.52" fill="#483d8b"/>
<polygon points="271.80,378.18 279.08,371.29 277.25,369.36 269.97,376.24" fill="#362e68"/>
<polygon points="264.39,370.35 271.68,363.46 269.95,361.62 262.65,368.52" fill="#7b73ab"/>
<polygon points="394.72,265.05 399.94,260.39 391.09,250.46 385.86,255.14" fill="#bdb76b"/>
<polygon points="394.72,265.05 399.94,260.39 398.17,258.40 392.95,263.07" fill="#8e8950"/>
<polygon points="387.54,257.02 392.77,252.35 391.09,250.46 385.86,255.14" fill="#cfcb94"/>
<polygon points="408.75,252.55 414.78,247.20 405.95,237.25 399.92,242.61" fill="#c0c0c0"/>
<polygon points="408.75,252.55 414.78,247.20 413.01,245.21 406.98,250.56" fill="#909090"/>
<polygon points="401.59,244.50 407.63,239.14 405.95,237.25 399.92,242.61" fill="#d2d2d2"/>
<polygon points="428.56,235.02 433.82,230.40 425.04,220.41 419.77,225.04" fill="#c0c0c0"/>
<polygon points="428.56,235.02 433.82,230.40 432.06,228.40 426.80,233.03" fill="#909090"/>
<polygon points="421.44,226.94 426.71,222.31 425.04,220.41 419.77,225.04" fill="#d2d2d2"/>
<polygon points="440.58,224.47 452.08,214.43 443.34,204.40 431.81,214.47" fill="#6b8e23"/>
<polygon points="440.58,224.47 452.08,214.43 450.33,212.42 438.82,222.47" fill="#506a1a"/>
<polygon points="433.48,216.37 445.00,206.30 443.34,204.40 431.81,214.47" fill="#94ae61"/>
<polygon points="470.68,198.29 475.12,194.46 466.43,184.39 461.99,188.23" fill="#c0c0c0"/>
<polygon points="470.68,198.29 475.12,194.46 473.38,192.45 468.94,196.28" fill="#909090"/>
<polygon points="463.64,190.14 468.08,186.30 466.43,184.39 461.99,188.23" fill="#d2d2d2"/>
<polygon points="478.85,191.24 485.56,185.48 476.90,175.39 470.18,181.16" fill="#4682b4"/>
<polygon points="478.85,191.24 485.56,185.48 483.83,183.46 477.12,189.23" fill="#346287"/>
<polygon points="471.83,183.08 478.55,177.31 476.90,175.39 470.18,181.16" fill="#7aa5c9"/>
<polygon points="485.56,185.48 490.06,181.63 481.41,171.52 476.90,175.39" fill="#4682b4"/>
<polygon points="485.56,185.48 490.06,181.63 488.33,179.61 483.83,183.46" fill="#346287"/>
<polygon points="478.55,177.31 483.05,173.44 481.41,171.52 476.90,175.39" fill="#7aa5c9"/>
<polygon points="490.06,181.63 496.61,176.02 487.98,165.91 481.41,171.52" fill="#4682b4"/>
<polygon points="490.06,181.63 496.61,176.02 494.89,174.00 488.33,179.61" fill="#346287"/>
<polygon points="483.05,173.44 489.62,167.83 487.98,165.91 481.41,171.52" fill="#7aa5c9"/>
<polygon points="496.61,176.02 500.37,172.82 491.74,162.69 487.98,165.91" fill="#4682b4"/>
<polygon points="496.61,176.02 500.37,172.82 498.65,170.79 494.89,174.00" fill="#346287"/>
<polygon points="489.62,167.83 493.38,164.62 491.74,162.69 487.98,165.91" fill="#7aa5c9"/>
<polygon points="502.32,171.15 508.41,165.98 499.80,155.84 493.70,161.03" fill="#4682b4"/>
<polygon points="502.32,171.15 508.41,165.98 506.69,163.95 500.60,169.13" fill="#346287"/>
<polygon points="495.34,162.95 501.44,157.77 499.80,155.84 493.70,161.03" fill="#7aa5c9"/>
<polygon points="524.08,152.72 526.64,150.56 518.07,140.39 515.51,142.55" fill="#00ffff"/>
<polygon points="524.08,152.72 526.64,150.56 524.93,148.53 522.37,150.68" fill="#00bfbf"/>
<polygon points="517.14,144.48 519.70,142.32 518.07,140.39 515.51,142.55" fill="#47ffff"/>
<polygon points="532.82,145.37 545.04,135.13 536.52,124.92 524.27,135.18" fill="#00ffff"/>
<polygon points="532.82,145.37 545.04,135.13 543.34,133.09 531.11,143.33" fill="#00bfbf"/>
<polygon points="525.89,137.12 538.14,126.86 536.52,124.92 524.27,135.18" fill="#47ffff"/>
<polygon points="547.97,132.69 556.04,125.97 547.54,115.74 539.45,122.47" fill="#ff1493"/>
<polygon points="547.97,132.69 556.04,125.97 554.34,123.92 546.26,130.65" fill="#bf0f6e"/>
<polygon points="541.07,124.42 549.15,117.69 547.54,115.74 539.45,122.47" fill="#ff56b1"/>
<polygon points="556.04,125.97 559.28,123.28 550.79,113.04 547.54,115.74" fill="#f08080"/>
<polygon points="556.04,125.97 559.28,123.28 557.58,121.23 554.34,123.92" fill="#b46060"/>
<polygon points="549.15,117.69 552.40,114.99 550.79,113.04 547.54,115.74" fill="#f4a4a4"/>
<polygon points="564.74,118.76 566.51,117.29 558.04,107.04 556.25,108.51" fill="#f08080"/>
<polygon points="564.74,118.76 566.51,117.29 564.82,115.24 563.04,116.71" fill="#b46060"/>
<polygon points="557.87,110.46 559.65,108.98 558.04,107.04 556.25,108.51" fill="#f4a4a4"/>
<polygon points="566.51,117.29 568.40,115.72 559.93,105.47 558.04,107.04" fill="#f08080"/>
<polygon points="566.51,117.29 568.40,115.72 566.71,113.67 564.82,115.24" fill="#b46060"/>
<polygon points="559.65,108.98 561.54,107.42 559.93,105.47 558.04,107.04" fill="#f4a4a4"/>
<polygon points="570.47,114.01 574.64,110.58 566.18,100.31 562.01,103.76" fill="#f08080"/>
<polygon points="570.47,114.01 574.64,110.58 572.95,108.52 568.78,111.96" fill="#b46060"/>
<polygon points="563.61,105.70 567.79,102.26 566.18,100.31 562.01,103.76" fill="#f4a4a4"/>
<polygon points="574.64,110.58 589.69,98.21 581.27,87.92 566.18,100.31" fill="#ff8c00"/>
<polygon points="574.64,110.58 589.69,98.21 588.01,96.15 572.95,108.52" fill="#bf6900"/>
<polygon points="567.79,102.26 582.87,89.88 581.27,87.92 566.18,100.31" fill="#ffac47"/>
<g stroke="#fff" stroke-width="0.6" stroke-opacity="0.85"><line x1="0.79" y1="560.19" x2="-9.01" y2="550.90"/><line x1="4.51" y1="556.27" x2="-5.28" y2="546.97"/><line x1="5.15" y1="555.60" x2="-4.64" y2="546.30"/><line x1="14.08" y1="546.20" x2="4.31" y2="536.89"/><line x1="14.08" y1="546.20" x2="4.31" y2="536.89"/><line x1="17.55" y1="542.57" x2="7.79" y2="533.25"/><line x1="61.07" y1="497.49" x2="51.41" y2="488.06"/><line x1="67.98" y1="490.42" x2="58.33" y2="480.98"/><line x1="87.68" y1="470.39" x2="78.08" y2="460.90"/><line x1="90.88" y1="467.16" x2="81.28" y2="457.66"/><line x1="100.94" y1="457.02" x2="91.36" y2="447.50"/><line x1="109.47" y1="448.45" x2="99.92" y2="438.91"/><line x1="123.05" y1="434.90" x2="113.53" y2="425.33"/><line x1="132.41" y1="425.61" x2="122.91" y2="416.02"/><line x1="133.42" y1="424.61" x2="123.92" y2="415.02"/><line x1="136.22" y1="421.83" x2="126.73" y2="412.23"/><line x1="136.65" y1="421.41" x2="127.16" y2="411.81"/><line x1="138.99" y1="419.11" x2="129.50" y2="409.50"/><line x1="138.99" y1="419.11" x2="129.50" y2="409.50"/><line x1="146.02" y1="412.17" x2="136.55" y2="402.55"/><line x1="148.84" y1="409.40" x2="139.37" y2="399.77"/><line x1="153.05" y1="405.26" x2="143.60" y2="395.62"/><line x1="163.05" y1="395.48" x2="153.61" y2="385.82"/><line x1="168.46" y1="390.21" x2="159.04" y2="380.53"/><line x1="168.46" y1="390.21" x2="159.04" y2="380.53"/><line x1="170.29" y1="388.42" x2="160.88" y2="378.74"/><line x1="170.29" y1="388.42" x2="160.88" y2="378.74"/><line x1="179.48" y1="379.49" x2="170.09" y2="369.80"/><line x1="179.48" y1="379.49" x2="170.09" y2="369.80"/><line x1="186.81" y1="372.41" x2="177.43" y2="362.70"/><line x1="203.53" y1="356.33" x2="194.19" y2="346.58"/><line x1="207.40" y1="352.63" x2="198.07" y2="342.87"/><line x1="237.38" y1="324.15" x2="228.12" y2="314.33"/><line x1="245.46" y1="316.55" x2="236.22" y2="306.71"/><line x1="245.46" y1="316.55" x2="236.22" y2="306.71"/><line x1="254.21" y1="308.34" x2="244.99" y2="298.49"/><line x1="254.21" y1="308.34" x2="244.99" y2="298.49"/><line x1="259.29" y1="303.60" x2="250.08" y2="293.73"/><line x1="259.29" y1="303.60" x2="250.08" y2="293.73"/><line x1="265.95" y1="297.39" x2="256.75" y2="287.51"/><line x1="259.29" y1="303.60" x2="250.08" y2="293.73"/><line x1="262.11" y1="300.97" x2="252.91" y2="291.09"/><line x1="270.21" y1="293.43" x2="261.02" y2="283.54"/><line x1="272.41" y1="291.39" x2="263.23" y2="281.50"/><line x1="288.10" y1="276.88" x2="278.95" y2="266.96"/><line x1="295.38" y1="270.19" x2="286.25" y2="260.25"/><line x1="297.83" y1="267.94" x2="288.71" y2="257.99"/><line x1="305.43" y1="260.99" x2="296.32" y2="251.02"/><line x1="312.05" y1="254.94" x2="302.96" y2="244.96"/><line x1="318.69" y1="248.90" x2="309.62" y2="238.91"/><line x1="318.69" y1="248.90" x2="309.62" y2="238.91"/><line x1="327.41" y1="241.00" x2="318.36" y2="230.99"/><line x1="327.41" y1="241.00" x2="318.36" y2="230.99"/><line x1="334.42" y1="234.67" x2="325.38" y2="224.64"/><line x1="334.58" y1="234.52" x2="325.54" y2="224.50"/><line x1="339.76" y1="229.86" x2="330.73" y2="219.82"/><line x1="339.76" y1="229.86" x2="330.73" y2="219.82"/><line x1="343.92" y1="226.12" x2="334.90" y2="216.07"/><line x1="343.92" y1="226.12" x2="334.90" y2="216.07"/><line x1="346.38" y1="223.91" x2="337.36" y2="213.86"/><line x1="346.38" y1="223.91" x2="337.36" y2="213.86"/><line x1="349.97" y1="220.69" x2="340.97" y2="210.63"/><line x1="359.25" y1="212.40" x2="350.27" y2="202.32"/><line x1="366.52" y1="205.93" x2="357.55" y2="195.84"/><line x1="394.79" y1="180.97" x2="385.88" y2="170.82"/><line x1="398.38" y1="177.81" x2="389.49" y2="167.66"/><line x1="420.92" y1="158.17" x2="412.08" y2="147.97"/><line x1="427.16" y1="152.77" x2="418.33" y2="142.56"/><line x1="470.96" y1="115.27" x2="462.23" y2="104.97"/><line x1="478.85" y1="108.59" x2="470.14" y2="98.27"/><line x1="478.85" y1="108.59" x2="470.14" y2="98.27"/><line x1="482.48" y1="105.52" x2="473.78" y2="95.20"/><line x1="488.38" y1="100.55" x2="479.69" y2="90.22"/><line x1="491.52" y1="97.91" x2="482.83" y2="87.58"/><line x1="554.72" y1="45.56" x2="546.18" y2="35.10"/><line x1="562.09" y1="39.55" x2="553.56" y2="29.08"/><line x1="562.09" y1="39.55" x2="553.56" y2="29.08"/><line x1="570.07" y1="33.06" x2="561.57" y2="22.58"/><line x1="42.51" y1="607.61" x2="32.85" y2="598.47"/><line x1="45.14" y1="604.83" x2="35.48" y2="595.69"/><line x1="45.14" y1="604.83" x2="35.48" y2="595.69"/><line x1="46.98" y1="602.89" x2="37.32" y2="593.75"/><line x1="63.82" y1="585.19" x2="54.21" y2="576.00"/><line x1="75.93" y1="572.56" x2="66.34" y2="563.35"/><line x1="78.86" y1="569.52" x2="69.28" y2="560.29"/><line x1="104.60" y1="542.94" x2="95.08" y2="533.66"/><line x1="113.71" y1="533.62" x2="104.21" y2="524.32"/><line x1="115.89" y1="531.40" x2="106.40" y2="522.08"/><line x1="117.47" y1="529.79" x2="107.98" y2="520.47"/><line x1="127.80" y1="519.28" x2="118.33" y2="509.94"/><line x1="129.05" y1="518.02" x2="119.58" y2="508.68"/><line x1="130.34" y1="516.71" x2="120.87" y2="507.37"/><line x1="136.29" y1="510.69" x2="126.84" y2="501.33"/><line x1="144.14" y1="502.78" x2="134.71" y2="493.40"/><line x1="136.29" y1="510.69" x2="126.84" y2="501.33"/><line x1="138.38" y1="508.58" x2="128.93" y2="499.22"/><line x1="255.15" y1="394.00" x2="245.97" y2="384.38"/><line x1="263.29" y1="386.24" x2="254.13" y2="376.60"/><line x1="263.29" y1="386.24" x2="254.13" y2="376.60"/><line x1="267.80" y1="381.96" x2="258.65" y2="372.31"/><line x1="267.80" y1="381.96" x2="258.65" y2="372.31"/><line x1="271.80" y1="378.18" x2="262.65" y2="368.52"/><line x1="271.80" y1="378.18" x2="262.65" y2="368.52"/><line x1="279.08" y1="371.29" x2="269.95" y2="361.62"/><line x1="394.72" y1="265.05" x2="385.86" y2="255.14"/><line x1="399.94" y1="260.39" x2="391.09" y2="250.46"/><line x1="408.75" y1="252.55" x2="399.92" y2="242.61"/><line x1="414.78" y1="247.20" x2="405.95" y2="237.25"/><line x1="428.56" y1="235.02" x2="419.77" y2="225.04"/><line x1="433.82" y1="230.40" x2="425.04" y2="220.41"/><line x1="440.58" y1="224.47" x2="431.81" y2="214.47"/><line x1="452.08" y1="214.43" x2="443.34" y2="204.40"/><line x1="470.68" y1="198.29" x2="461.99" y2="188.23"/><line x1="475.12" y1="194.46" x2="466.43" y2="184.39"/><line x1="478.85" y1="191.24" x2="470.18" y2="181.16"/><line x1="485.56" y1="185.48" x2="476.90" y2="175.39"/><line x1="485.56" y1="185.48" x2="476.90" y2="175.39"/><line x1="490.06" y1="181.63" x2="481.41" y2="171.52"/><line x1="490.06" y1="181.63" x2="481.41" y2="171.52"/><line x1="496.61" y1="176.02" x2="487.98" y2="165.91"/><line x1="496.61" y1="176.02" x2="487.98" y2="165.91"/><line x1="500.37" y1="172.82" x2="491.74" y2="162.69"/><line x1="502.32" y1="171.15" x2="493.70" y2="161.03"/><line x1="508.41" y1="165.98" x2="499.80" y2="155.84"/><line x1="524.08" y1="152.72" x2="515.51" y2="142.55"/><line x1="526.64" y1="150.56" x2="518.07" y2="140.39"/><line x1="532.82" y1="145.37" x2="524.27" y2="135.18"/><line x1="545.04" y1="135.13" x2="536.52" y2="124.92"/><line x1="547.97" y1="132.69" x2="539.45" y2="122.47"/><line x1="556.04" y1="125.97" x2="547.54" y2="115.74"/><line x1="556.04" y1="125.97" x2="547.54" y2="115.74"/><line x1="559.28" y1="123.28" x2="550.79" y2="113.04"/><line x1="564.74" y1="118.76" x2="556.25" y2="108.51"/><line x1="566.51" y1="117.29" x2="558.04" y2="107.04"/><line x1="566.51" y1="117.29" x2="558.04" y2="107.04"/><line x1="568.40" y1="115.72" x2="559.93" y2="105.47"/><line x1="570.47" y1="114.01" x2="562.01" y2="103.76"/><line x1="574.64" y1="110.58" x2="566.18" y2="100.31"/><line x1="574.64" y1="110.58" x2="566.18" y2="100.31"/><line x1="589.69" y1="98.21" x2="581.27" y2="87.92"/></g>
<polygon points="-13.04,601.14 1.71,585.43 0.19,577.13 -8.20,576.11 -22.97,591.85" fill="#ff0000"/>
<polygon points="-13.04,601.14 1.71,585.43 1.10,582.11 -15.02,599.29" fill="#bf0000"/>
<polygon points="-21.08,593.62 -5.01,576.49 -8.20,576.11 -22.97,591.85" fill="#ff4747"/>
<polygon points="13.96,572.46 14.07,572.34 12.58,564.03 4.20,562.99 4.09,563.10" fill="#ff0000"/>
<polygon points="13.96,572.46 14.07,572.34 13.47,569.02 11.99,570.58" fill="#bf0000"/>
<polygon points="5.97,564.88 7.38,563.39 4.20,562.99 4.09,563.10" fill="#ff4747"/>
<polygon points="18.20,567.99 23.34,562.58 21.87,554.27 13.49,553.20 8.34,558.63" fill="#ff0000"/>
<polygon points="18.20,567.99 23.34,562.58 22.75,559.26 16.23,566.12" fill="#bf0000"/>
<polygon points="10.21,560.40 16.68,553.61 13.49,553.20 8.34,558.63" fill="#ff4747"/>
<polygon points="27.11,558.63 27.27,558.46 25.81,550.14 17.43,549.07 17.27,549.24" fill="#ff0000"/>
<polygon points="27.11,558.63 27.27,558.46 26.68,555.13 25.14,556.75" fill="#bf0000"/>
<polygon points="19.14,551.02 20.61,549.48 17.43,549.07 17.27,549.24" fill="#ff4747"/>
<polygon points="43.21,541.81 43.23,541.78 41.80,533.46 33.43,532.36 33.40,532.39" fill="#ff0000"/>
<polygon points="43.21,541.81 43.23,541.78 42.66,538.46 41.25,539.93" fill="#bf0000"/>
<polygon points="35.26,534.18 36.61,532.78 33.43,532.36 33.40,532.39" fill="#ff4747"/>
<polygon points="74.17,509.84 77.13,506.81 75.77,498.48 67.40,497.30 64.44,500.34" fill="#ff0000"/>
<polygon points="74.17,509.84 77.13,506.81 76.58,503.48 72.23,507.94" fill="#bf0000"/>
<polygon points="66.29,502.14 70.58,497.75 67.40,497.30 64.44,500.34" fill="#ff4747"/>
<polygon points="100.37,483.16 100.37,483.16 99.06,474.82 90.70,473.60 90.70,473.60" fill="#ff0000"/>
<polygon points="100.37,483.16 100.37,483.16 99.85,479.82 98.44,481.24" fill="#bf0000"/>
<polygon points="92.54,475.41 93.88,474.06 90.70,473.60 90.70,473.60" fill="#ff4747"/>
<polygon points="113.81,469.60 118.69,464.70 117.41,456.35 109.06,455.10 104.16,460.01" fill="#ff0000"/>
<polygon points="113.81,469.60 118.69,464.70 118.18,461.36 111.88,467.69" fill="#bf0000"/>
<polygon points="106.00,461.84 112.24,455.57 109.06,455.10 104.16,460.01" fill="#ff4747"/>
<polygon points="123.80,459.58 130.61,452.78 129.35,444.43 121.00,443.15 114.18,449.96" fill="#ff0000"/>
<polygon points="123.80,459.58 130.61,452.78 130.10,449.44 121.88,457.66" fill="#bf0000"/>
<polygon points="116.01,451.79 124.18,443.64 121.00,443.15 114.18,449.96" fill="#ff4747"/>
<polygon points="135.79,447.62 141.35,442.09 140.12,433.74 131.77,432.44 126.19,437.98" fill="#ff0000"/>
<polygon points="135.79,447.62 141.35,442.09 140.86,438.75 133.87,445.69" fill="#bf0000"/>
<polygon points="128.02,439.81 134.95,432.93 131.77,432.44 126.19,437.98" fill="#ff4747"/>
<polygon points="145.94,437.54 145.94,437.54 144.72,429.19 136.37,427.88 136.37,427.88" fill="#ff0000"/>
<polygon points="145.94,437.54 145.94,437.54 145.45,434.20 144.03,435.61" fill="#bf0000"/>
<polygon points="138.19,429.71 139.55,428.37 136.37,427.88 136.37,427.88" fill="#ff4747"/>
<polygon points="148.95,434.56 148.95,434.56 147.73,426.21 139.39,424.89 139.39,424.89" fill="#ff0000"/>
<polygon points="148.95,434.56 148.95,434.56 148.46,431.22 147.04,432.63" fill="#bf0000"/>
<polygon points="141.21,426.73 142.56,425.39 139.39,424.89 139.39,424.89" fill="#ff4747"/>
<polygon points="151.85,431.70 155.08,428.51 153.88,420.15 145.54,418.82 142.30,422.02" fill="#ff0000"/>
<polygon points="151.85,431.70 155.08,428.51 154.60,425.17 149.94,429.76" fill="#bf0000"/>
<polygon points="144.11,423.86 148.71,419.33 145.54,418.82 142.30,422.02" fill="#ff4747"/>
<polygon points="161.23,422.46 161.23,422.46 160.03,414.10 151.69,412.76 151.69,412.76" fill="#ff0000"/>
<polygon points="161.23,422.46 161.23,422.46 160.75,419.12 159.32,420.52" fill="#bf0000"/>
<polygon points="153.50,414.61 154.86,413.27 151.69,412.76 151.69,412.76" fill="#ff4747"/>
<polygon points="166.00,417.77 169.08,414.76 167.90,406.40 159.56,405.04 156.48,408.06" fill="#ff0000"/>
<polygon points="166.00,417.77 169.08,414.76 168.61,411.41 164.10,415.83" fill="#bf0000"/>
<polygon points="158.29,409.91 162.73,405.55 159.56,405.04 156.48,408.06" fill="#ff4747"/>
<polygon points="175.47,408.51 175.47,408.51 174.31,400.14 165.97,398.77 165.97,398.77" fill="#ff0000"/>
<polygon points="175.47,408.51 175.47,408.51 175.00,405.16 173.57,406.56" fill="#bf0000"/>
<polygon points="167.78,400.62 169.14,399.29 165.97,398.77 165.97,398.77" fill="#ff4747"/>
<polygon points="179.93,404.16 179.93,404.16 178.77,395.80 170.44,394.42 170.44,394.42" fill="#ff0000"/>
<polygon points="179.93,404.16 179.93,404.16 179.46,400.81 178.03,402.21" fill="#bf0000"/>
<polygon points="172.24,396.27 173.60,394.94 170.44,394.42 170.44,394.42" fill="#ff4747"/>
<polygon points="183.30,400.87 187.53,396.76 186.39,388.40 178.06,387.00 173.82,391.13" fill="#ff0000"/>
<polygon points="183.30,400.87 187.53,396.76 187.08,393.42 181.41,398.92" fill="#bf0000"/>
<polygon points="175.62,392.98 181.23,387.53 178.06,387.00 173.82,391.13" fill="#ff4747"/>
<polygon points="192.12,392.31 195.60,388.94 194.47,380.58 186.15,379.17 182.66,382.54" fill="#ff0000"/>
<polygon points="192.12,392.31 195.60,388.94 195.15,385.60 190.23,390.36" fill="#bf0000"/>
<polygon points="184.46,384.40 189.31,379.70 186.15,379.17 182.66,382.54" fill="#ff4747"/>
<polygon points="200.44,384.27 212.28,372.88 211.19,364.50 202.86,363.06 190.99,374.48" fill="#ff0000"/>
<polygon points="200.44,384.27 212.28,372.88 211.84,369.53 198.55,382.31" fill="#bf0000"/>
<polygon points="192.79,376.34 206.03,363.61 202.86,363.06 190.99,374.48" fill="#ff4747"/>
<polygon points="216.27,369.05 216.28,369.04 215.19,360.67 206.87,359.22 206.87,359.23" fill="#ff0000"/>
<polygon points="216.27,369.05 216.28,369.04 215.84,365.69 214.39,367.08" fill="#bf0000"/>
<polygon points="208.65,361.09 210.04,359.77 206.87,359.22 206.87,359.23" fill="#ff4747"/>
<polygon points="249.72,337.26 253.81,333.41 252.80,325.03 244.49,323.50 240.39,327.37" fill="#ff0000"/>
<polygon points="249.72,337.26 253.81,333.41 253.40,330.06 247.85,335.29" fill="#bf0000"/>
<polygon points="242.16,329.25 247.65,324.08 244.49,323.50 240.39,327.37" fill="#ff4747"/>
<polygon points="256.89,330.51 259.32,328.23 258.32,319.84 250.01,318.31 247.58,320.60" fill="#ff0000"/>
<polygon points="256.89,330.51 259.32,328.23 258.92,324.87 255.03,328.53" fill="#bf0000"/>
<polygon points="249.35,322.48 253.17,318.89 250.01,318.31 247.58,320.60" fill="#ff4747"/>
<polygon points="262.41,325.33 263.10,324.68 262.10,316.30 253.80,314.76 253.11,315.41" fill="#ff0000"/>
<polygon points="262.41,325.33 263.10,324.68 262.70,321.33 260.55,323.35" fill="#bf0000"/>
<polygon points="254.87,317.29 256.95,315.34 253.80,314.76 253.11,315.41" fill="#ff4747"/>
<polygon points="266.19,321.79 266.19,321.79 265.20,313.41 256.89,311.86 256.89,311.86" fill="#ff0000"/>
<polygon points="266.19,321.79 266.19,321.79 265.79,318.44 264.33,319.81" fill="#bf0000"/>
<polygon points="258.66,313.75 260.05,312.45 256.89,311.86 256.89,311.86" fill="#ff4747"/>
<polygon points="267.90,320.19 267.90,320.19 266.91,311.81 258.61,310.26 258.61,310.26" fill="#ff0000"/>
<polygon points="267.90,320.19 267.90,320.19 267.50,316.84 266.04,318.21" fill="#bf0000"/>
<polygon points="260.37,312.15 261.76,310.85 258.61,310.26 258.61,310.26" fill="#ff4747"/>
<polygon points="269.81,318.41 271.17,317.13 270.19,308.75 261.89,307.19 260.52,308.47" fill="#ff0000"/>
<polygon points="269.81,318.41 271.17,317.13 270.78,313.78 267.95,316.42" fill="#bf0000"/>
<polygon points="262.29,310.36 265.05,307.78 261.89,307.19 260.52,308.47" fill="#ff4747"/>
<polygon points="274.27,314.24 276.00,312.63 275.03,304.25 266.73,302.68 264.99,304.30" fill="#ff0000"/>
<polygon points="274.27,314.24 276.00,312.63 275.61,309.28 272.41,312.25" fill="#bf0000"/>
<polygon points="266.76,306.19 269.88,303.28 266.73,302.68 264.99,304.30" fill="#ff4747"/>
<polygon points="279.09,309.75 279.09,309.75 278.13,301.36 269.83,299.79 269.83,299.79" fill="#ff0000"/>
<polygon points="279.09,309.75 279.09,309.75 278.71,306.40 277.24,307.76" fill="#bf0000"/>
<polygon points="271.59,301.68 272.98,300.39 269.83,299.79 269.83,299.79" fill="#ff4747"/>
<polygon points="281.84,307.19 281.84,307.19 280.88,298.81 272.59,297.23 272.59,297.23" fill="#ff0000"/>
<polygon points="281.84,307.19 281.84,307.19 281.46,303.84 279.99,305.20" fill="#bf0000"/>
<polygon points="274.34,299.12 275.74,297.83 272.59,297.23 272.59,297.23" fill="#ff4747"/>
<polygon points="284.79,304.46 284.93,304.33 283.97,295.94 275.68,294.36 275.54,294.49" fill="#ff0000"/>
<polygon points="284.79,304.46 284.93,304.33 284.54,300.98 282.94,302.46" fill="#bf0000"/>
<polygon points="277.30,296.38 278.83,294.96 275.68,294.36 275.54,294.49" fill="#ff4747"/>
<polygon points="288.03,301.45 295.99,294.09 295.06,285.70 286.77,284.10 278.79,291.48" fill="#ff0000"/>
<polygon points="288.03,301.45 295.99,294.09 295.62,290.74 286.18,299.46" fill="#bf0000"/>
<polygon points="280.54,293.37 289.92,284.71 286.77,284.10 278.79,291.48" fill="#ff4747"/>
<polygon points="300.16,290.25 304.03,286.69 303.11,278.30 294.82,276.68 290.95,280.25" fill="#ff0000"/>
<polygon points="300.16,290.25 304.03,286.69 303.66,283.33 298.32,288.25" fill="#bf0000"/>
<polygon points="292.70,282.15 297.97,277.29 294.82,276.68 290.95,280.25" fill="#ff4747"/>
<polygon points="310.19,281.03 313.95,277.59 313.05,269.19 304.77,267.55 301.00,271.00" fill="#ff0000"/>
<polygon points="310.19,281.03 313.95,277.59 313.59,274.23 308.35,279.02" fill="#bf0000"/>
<polygon points="302.75,272.91 307.91,268.18 304.77,267.55 301.00,271.00" fill="#ff4747"/>
<polygon points="323.77,268.62 326.74,265.92 325.86,257.52 317.58,255.86 314.61,258.57" fill="#ff0000"/>
<polygon points="323.77,268.62 326.74,265.92 326.39,262.56 321.93,266.61" fill="#bf0000"/>
<polygon points="316.35,260.48 320.73,256.49 317.58,255.86 314.61,258.57" fill="#ff4747"/>
<polygon points="332.11,261.03 336.13,257.38 335.28,248.98 327.00,247.30 322.97,250.96" fill="#ff0000"/>
<polygon points="332.11,261.03 336.13,257.38 335.79,254.02 330.28,259.02" fill="#bf0000"/>
<polygon points="324.71,252.87 330.15,247.94 327.00,247.30 322.97,250.96" fill="#ff4747"/>
<polygon points="340.28,253.63 342.98,251.19 342.14,242.79 333.87,241.09 331.16,243.54" fill="#ff0000"/>
<polygon points="340.28,253.63 342.98,251.19 342.64,247.83 338.46,251.61" fill="#bf0000"/>
<polygon points="332.89,245.46 337.01,241.74 333.87,241.09 331.16,243.54" fill="#ff4747"/>
<polygon points="346.40,248.10 348.47,246.24 347.64,237.84 339.36,236.14 337.29,238.00" fill="#ff0000"/>
<polygon points="346.40,248.10 348.47,246.24 348.13,242.88 344.58,246.08" fill="#bf0000"/>
<polygon points="339.03,239.92 342.51,236.78 339.36,236.14 337.29,238.00" fill="#ff4747"/>
<polygon points="351.88,243.17 352.41,242.69 351.59,234.28 343.32,232.57 342.78,233.05" fill="#ff0000"/>
<polygon points="351.88,243.17 352.41,242.69 352.08,239.33 350.06,241.14" fill="#bf0000"/>
<polygon points="344.51,234.98 346.46,233.22 343.32,232.57 342.78,233.05" fill="#ff4747"/>
<polygon points="355.74,239.70 355.74,239.70 354.92,231.30 346.65,229.58 346.65,229.58" fill="#ff0000"/>
<polygon points="355.74,239.70 355.74,239.70 355.41,236.34 353.92,237.67" fill="#bf0000"/>
<polygon points="348.38,231.50 349.79,230.23 346.65,229.58 346.65,229.58" fill="#ff4747"/>
<polygon points="358.69,237.05 359.00,236.77 358.19,228.37 349.92,226.65 349.61,226.93" fill="#ff0000"/>
<polygon points="358.69,237.05 359.00,236.77 358.67,233.41 356.87,235.03" fill="#bf0000"/>
<polygon points="351.33,228.85 353.06,227.30 349.92,226.65 349.61,226.93" fill="#ff4747"/>
<polygon points="371.61,225.49 375.06,222.42 374.28,214.01 366.02,212.26 362.56,215.34" fill="#ff0000"/>
<polygon points="371.61,225.49 375.06,222.42 374.75,219.06 369.80,223.46" fill="#bf0000"/>
<polygon points="364.28,217.27 369.16,212.93 366.02,212.26 362.56,215.34" fill="#ff4747"/>
<polygon points="393.75,205.85 393.78,205.83 393.03,197.42 384.78,195.64 384.75,195.66" fill="#ff0000"/>
<polygon points="393.75,205.85 393.78,205.83 393.48,202.47 391.95,203.82" fill="#bf0000"/>
<polygon points="386.46,197.60 387.91,196.31 384.78,195.64 384.75,195.66" fill="#ff4747"/>
<polygon points="403.93,196.89 403.94,196.88 403.21,188.47 394.96,186.67 394.96,186.67" fill="#ff0000"/>
<polygon points="403.93,196.89 403.94,196.88 403.65,193.52 402.14,194.85" fill="#bf0000"/>
<polygon points="396.66,188.61 398.10,187.35 394.96,186.67 394.96,186.67" fill="#ff4747"/>
<polygon points="406.99,194.21 407.00,194.19 406.28,185.78 398.03,183.97 398.02,183.99" fill="#ff0000"/>
<polygon points="406.99,194.21 407.00,194.19 406.71,190.83 405.19,192.16" fill="#bf0000"/>
<polygon points="399.72,185.93 401.17,184.66 398.03,183.97 398.02,183.99" fill="#ff4747"/>
<polygon points="424.28,179.10 424.28,179.10 423.59,170.69 415.35,168.84 415.35,168.84" fill="#ff0000"/>
<polygon points="424.28,179.10 424.28,179.10 424.00,175.74 422.49,177.05" fill="#bf0000"/>
<polygon points="417.04,170.79 418.48,169.54 415.35,168.84 415.35,168.84" fill="#ff4747"/>
<polygon points="428.44,175.48 428.44,175.48 427.77,167.06 419.52,165.21 419.52,165.21" fill="#ff0000"/>
<polygon points="428.44,175.48 428.44,175.48 428.17,172.11 426.66,173.42" fill="#bf0000"/>
<polygon points="421.22,167.16 422.66,165.91 419.52,165.21 419.52,165.21" fill="#ff4747"/>
<polygon points="433.34,171.23 435.48,169.37 434.82,160.95 426.58,159.09 424.43,160.95" fill="#ff0000"/>
<polygon points="433.34,171.23 435.48,169.37 435.22,166.00 431.56,169.17" fill="#bf0000"/>
<polygon points="426.12,162.91 429.71,159.80 426.58,159.09 424.43,160.95" fill="#ff4747"/>
<polygon points="438.78,166.52 438.78,166.52 438.12,158.10 429.88,156.23 429.88,156.23" fill="#ff0000"/>
<polygon points="438.78,166.52 438.78,166.52 438.51,163.15 437.00,164.46" fill="#bf0000"/>
<polygon points="431.57,158.19 433.01,156.94 429.88,156.23 429.88,156.23" fill="#ff4747"/>
<polygon points="482.29,129.26 486.33,125.83 485.76,117.41 477.54,115.45 473.49,118.89" fill="#ff0000"/>
<polygon points="482.29,129.26 486.33,125.83 486.10,122.46 480.53,127.19" fill="#bf0000"/>
<polygon points="475.16,120.86 480.67,116.19 477.54,115.45 473.49,118.89" fill="#ff4747"/>
<polygon points="489.43,123.21 489.43,123.21 488.86,114.79 480.65,112.83 480.65,112.83" fill="#ff0000"/>
<polygon points="489.43,123.21 489.43,123.21 489.20,119.84 487.67,121.14" fill="#bf0000"/>
<polygon points="482.32,114.80 483.77,113.57 480.65,112.83 480.65,112.83" fill="#ff4747"/>
<polygon points="499.67,114.57 499.67,114.57 499.13,106.15 490.92,104.17 490.92,104.17" fill="#ff0000"/>
<polygon points="499.67,114.57 499.67,114.57 499.45,111.20 497.92,112.49" fill="#bf0000"/>
<polygon points="492.58,106.14 494.04,104.92 490.92,104.17 490.92,104.17" fill="#ff4747"/>
<polygon points="561.66,63.14 561.66,63.14 561.23,54.71 553.04,52.61 553.04,52.61" fill="#f4a8d4"/>
<polygon points="561.66,63.14 561.66,63.14 561.48,59.77 559.93,61.03" fill="#b77e9f"/>
<polygon points="554.68,54.61 556.15,53.41 553.04,52.61 553.04,52.61" fill="#f7c0e0"/>
<polygon points="566.50,59.18 569.18,56.99 568.76,48.56 560.59,46.45 557.90,48.64" fill="#ff0000"/>
<polygon points="566.50,59.18 569.18,56.99 569.01,53.62 564.78,57.07" fill="#bf0000"/>
<polygon points="559.53,50.65 563.69,47.25 560.59,46.45 557.90,48.64" fill="#ff4747"/>
<polygon points="572.85,54.00 577.42,50.28 577.01,41.85 568.84,39.73 564.26,43.45" fill="#ff0000"/>
<polygon points="572.85,54.00 577.42,50.28 577.25,46.91 571.13,51.89" fill="#bf0000"/>
<polygon points="565.89,45.46 571.95,40.54 568.84,39.73 564.26,43.45" fill="#ff4747"/>
<polygon points="27.52,597.70 27.52,597.70 19.20,596.69 17.71,588.43 17.71,588.43" fill="#0000ff"/>
<polygon points="27.52,597.70 27.52,597.70 24.19,597.30 25.56,595.85" fill="#0000bf"/>
<polygon points="19.57,590.19 18.27,591.57 17.71,588.43 17.71,588.43" fill="#4747ff"/>
<polygon points="33.99,590.86 33.99,590.86 25.67,589.84 24.19,581.58 24.19,581.58" fill="#0000ff"/>
<polygon points="33.99,590.86 33.99,590.86 30.66,590.45 32.03,589.01" fill="#0000bf"/>
<polygon points="26.06,583.34 24.75,584.72 24.19,581.58 24.19,581.58" fill="#4747ff"/>
<polygon points="63.08,560.39 54.04,569.81 45.72,568.74 44.29,560.48 53.35,551.03" fill="#0000ff"/>
<polygon points="63.08,560.39 54.04,569.81 50.72,569.38 61.14,558.51" fill="#0000bf"/>
<polygon points="55.20,552.81 44.83,563.62 44.29,560.48 53.35,551.03" fill="#4747ff"/>
<polygon points="92.12,530.40 69.06,554.18 60.74,553.08 59.34,544.81 82.45,520.97" fill="#0000ff"/>
<polygon points="92.12,530.40 69.06,554.18 65.73,553.74 90.18,528.51" fill="#0000bf"/>
<polygon points="84.29,522.76 59.87,547.95 59.34,544.81 82.45,520.97" fill="#4747ff"/>
<polygon points="104.00,518.24 104.00,518.24 95.70,517.07 94.37,508.79 94.37,508.79" fill="#0000ff"/>
<polygon points="104.00,518.24 104.00,518.24 100.68,517.77 102.08,516.35" fill="#0000bf"/>
<polygon points="96.20,510.58 94.87,511.94 94.37,508.79 94.37,508.79" fill="#4747ff"/>
<polygon points="114.88,507.18 108.32,513.84 100.02,512.66 98.69,504.38 105.26,497.70" fill="#0000ff"/>
<polygon points="114.88,507.18 108.32,513.84 105.00,513.37 112.96,505.28" fill="#0000bf"/>
<polygon points="107.09,499.50 99.20,507.53 98.69,504.38 105.26,497.70" fill="#4747ff"/>
<polygon points="118.11,503.91 118.11,503.91 109.80,502.71 108.50,494.42 108.50,494.42" fill="#0000ff"/>
<polygon points="118.11,503.91 118.11,503.91 114.78,503.43 116.18,502.01" fill="#0000bf"/>
<polygon points="110.32,496.23 108.99,497.57 108.50,494.42 108.50,494.42" fill="#4747ff"/>
<polygon points="126.08,495.85 126.08,495.85 117.78,494.64 116.49,486.35 116.49,486.35" fill="#0000ff"/>
<polygon points="126.08,495.85 126.08,495.85 122.76,495.36 124.16,493.95" fill="#0000bf"/>
<polygon points="118.31,488.15 116.98,489.50 116.49,486.35 116.49,486.35" fill="#4747ff"/>
<polygon points="131.53,490.36 129.85,492.04 121.55,490.83 120.27,482.53 121.95,480.84" fill="#0000ff"/>
<polygon points="131.53,490.36 129.85,492.04 126.53,491.56 129.61,488.46" fill="#0000bf"/>
<polygon points="123.77,482.65 120.76,485.68 120.27,482.53 121.95,480.84" fill="#4747ff"/>
<polygon points="241.81,382.26 241.79,382.28 233.53,380.84 232.47,372.52 232.49,372.49" fill="#0000ff"/>
<polygon points="241.81,382.26 241.79,382.28 238.49,381.70 239.95,380.31" fill="#0000bf"/>
<polygon points="234.26,374.35 232.87,375.68 232.47,372.52 232.49,372.49" fill="#4747ff"/>
<polygon points="251.83,372.72 245.84,378.42 237.57,376.97 236.52,368.65 242.53,362.93" fill="#0000ff"/>
<polygon points="251.83,372.72 245.84,378.42 242.53,377.84 249.97,370.76" fill="#0000bf"/>
<polygon points="244.30,364.79 236.92,371.81 236.52,368.65 242.53,362.93" fill="#4747ff"/>
<polygon points="255.88,368.87 255.55,369.18 247.29,367.72 246.26,359.39 246.59,359.08" fill="#0000ff"/>
<polygon points="255.88,368.87 255.55,369.18 252.25,368.60 254.02,366.91" fill="#0000bf"/>
<polygon points="248.35,360.94 246.65,362.56 246.26,359.39 246.59,359.08" fill="#4747ff"/>
<polygon points="259.51,365.43 259.44,365.50 251.18,364.02 250.16,355.69 250.23,355.63" fill="#0000ff"/>
<polygon points="259.51,365.43 259.44,365.50 256.14,364.91 257.66,363.47" fill="#0000bf"/>
<polygon points="252.00,357.49 250.55,358.86 250.16,355.69 250.23,355.63" fill="#4747ff"/>
<polygon points="266.77,358.57 262.78,362.34 254.52,360.86 253.51,352.53 257.50,348.75" fill="#0000ff"/>
<polygon points="266.77,358.57 262.78,362.34 259.48,361.74 264.91,356.61" fill="#0000bf"/>
<polygon points="259.26,350.62 253.89,355.69 253.51,352.53 257.50,348.75" fill="#4747ff"/>
<polygon points="339.58,291.01 339.58,291.01 331.35,289.38 330.48,281.04 330.48,281.04" fill="#0000ff"/>
<polygon points="339.58,291.01 339.58,291.01 336.29,290.36 337.76,289.02" fill="#0000bf"/>
<polygon points="332.21,282.93 330.81,284.21 330.48,281.04 330.48,281.04" fill="#4747ff"/>
<polygon points="383.60,251.25 383.60,251.25 375.39,249.54 374.60,241.19 374.60,241.19" fill="#0000ff"/>
<polygon points="383.60,251.25 383.60,251.25 380.32,250.57 381.80,249.24" fill="#0000bf"/>
<polygon points="376.31,243.10 374.90,244.36 374.60,241.19 374.60,241.19" fill="#4747ff"/>
<polygon points="388.00,247.32 386.86,248.34 378.65,246.63 377.87,238.27 379.01,237.25" fill="#0000ff"/>
<polygon points="388.00,247.32 386.86,248.34 383.57,247.66 386.20,245.31" fill="#0000bf"/>
<polygon points="380.72,239.16 378.16,241.45 377.87,238.27 379.01,237.25" fill="#4747ff"/>
<polygon points="402.04,234.84 400.88,235.87 392.67,234.13 391.92,225.77 393.08,224.74" fill="#0000ff"/>
<polygon points="402.04,234.84 400.88,235.87 397.59,235.17 400.25,232.82" fill="#0000bf"/>
<polygon points="394.79,226.66 392.20,228.95 391.92,225.77 393.08,224.74" fill="#4747ff"/>
<polygon points="406.10,231.24 406.10,231.24 397.89,229.49 397.15,221.13 397.15,221.13" fill="#0000ff"/>
<polygon points="406.10,231.24 406.10,231.24 402.82,230.54 404.31,229.22" fill="#0000bf"/>
<polygon points="398.85,223.05 397.43,224.31 397.15,221.13 397.15,221.13" fill="#4747ff"/>
<polygon points="409.64,228.11 409.64,228.11 401.44,226.36 400.70,218.00 400.70,218.00" fill="#0000ff"/>
<polygon points="409.64,228.11 409.64,228.11 406.36,227.41 407.85,226.09" fill="#0000bf"/>
<polygon points="402.40,219.92 400.98,221.17 400.70,218.00 400.70,218.00" fill="#4747ff"/>
<polygon points="421.67,217.51 420.60,218.45 412.40,216.67 411.69,208.31 412.76,207.37" fill="#0000ff"/>
<polygon points="421.67,217.51 420.60,218.45 417.32,217.74 419.89,215.48" fill="#0000bf"/>
<polygon points="414.46,209.30 411.96,211.49 411.69,208.31 412.76,207.37" fill="#4747ff"/>
<polygon points="440.10,201.39 432.66,207.88 424.47,206.08 423.78,197.72 431.23,191.21" fill="#0000ff"/>
<polygon points="440.10,201.39 432.66,207.88 429.39,207.16 438.32,199.36" fill="#0000bf"/>
<polygon points="432.91,193.15 424.04,200.89 423.78,197.72 431.23,191.21" fill="#4747ff"/>
<polygon points="463.39,181.21 462.88,181.64 454.70,179.79 454.06,171.42 454.57,170.98" fill="#0000ff"/>
<polygon points="463.39,181.21 462.88,181.64 459.61,180.90 461.62,179.16" fill="#0000bf"/>
<polygon points="456.25,172.93 454.30,174.60 454.06,171.42 454.57,170.98" fill="#4747ff"/>
<polygon points="471.19,174.49 471.19,174.49 463.02,172.62 462.40,164.25 462.40,164.25" fill="#0000ff"/>
<polygon points="471.19,174.49 471.19,174.49 467.92,173.74 469.43,172.44" fill="#0000bf"/>
<polygon points="464.07,166.19 462.63,167.43 462.40,164.25 462.40,164.25" fill="#4747ff"/>
<polygon points="475.80,170.53 475.80,170.53 467.63,168.65 467.02,160.28 467.02,160.28" fill="#0000ff"/>
<polygon points="475.80,170.53 475.80,170.53 472.53,169.78 474.05,168.48" fill="#0000bf"/>
<polygon points="468.69,162.23 467.25,163.46 467.02,160.28 467.02,160.28" fill="#4747ff"/>
<polygon points="483.73,163.75 480.57,166.45 472.40,164.56 471.80,156.19 474.97,153.48" fill="#0000ff"/>
<polygon points="483.73,163.75 480.57,166.45 477.30,165.69 481.98,161.69" fill="#0000bf"/>
<polygon points="476.63,155.43 472.02,159.37 471.80,156.19 474.97,153.48" fill="#4747ff"/>
<polygon points="488.67,159.53 488.67,159.53 480.50,157.63 479.91,149.26 479.91,149.26" fill="#0000ff"/>
<polygon points="488.67,159.53 488.67,159.53 485.40,158.77 486.92,157.48" fill="#0000bf"/>
<polygon points="481.58,151.21 480.13,152.44 479.91,149.26 479.91,149.26" fill="#4747ff"/>
<polygon points="496.48,152.89 493.10,155.76 484.93,153.85 484.35,145.48 487.74,142.60" fill="#0000ff"/>
<polygon points="496.48,152.89 493.10,155.76 489.83,155.00 494.73,150.83" fill="#0000bf"/>
<polygon points="489.40,144.55 484.57,148.66 484.35,145.48 487.74,142.60" fill="#4747ff"/>
<polygon points="515.38,136.90 515.38,136.90 507.22,134.95 506.69,126.58 506.69,126.58" fill="#0000ff"/>
<polygon points="515.38,136.90 515.38,136.90 512.12,136.12 513.64,134.84" fill="#0000bf"/>
<polygon points="508.34,128.54 506.89,129.76 506.69,126.58 506.69,126.58" fill="#4747ff"/>
<polygon points="534.28,121.06 525.25,128.61 517.10,126.64 516.58,118.27 525.63,110.70" fill="#0000ff"/>
<polygon points="534.28,121.06 525.25,128.61 521.99,127.82 532.55,118.99" fill="#0000bf"/>
<polygon points="527.27,112.67 516.77,121.45 516.58,118.27 525.63,110.70" fill="#4747ff"/>
<polygon points="544.51,112.54 540.46,115.91 532.31,113.91 531.82,105.53 535.88,102.16" fill="#0000ff"/>
<polygon points="544.51,112.54 540.46,115.91 537.20,115.11 542.78,110.46" fill="#0000bf"/>
<polygon points="537.52,104.13 532.00,108.72 531.82,105.53 535.88,102.16" fill="#4747ff"/>
<polygon points="547.93,109.70 547.93,109.70 539.78,107.69 539.31,99.31 539.31,99.31" fill="#0000ff"/>
<polygon points="547.93,109.70 547.93,109.70 544.67,108.89 546.21,107.62" fill="#0000bf"/>
<polygon points="540.95,101.28 539.49,102.49 539.31,99.31 539.31,99.31" fill="#4747ff"/>
<polygon points="552.25,106.11 552.25,106.11 544.11,104.10 543.64,95.72 543.64,95.72" fill="#0000ff"/>
<polygon points="552.25,106.11 552.25,106.11 549.00,105.30 550.53,104.03" fill="#0000bf"/>
<polygon points="545.28,97.69 543.82,98.90 543.64,95.72 543.64,95.72" fill="#4747ff"/>
<polygon points="555.57,103.36 555.57,103.36 547.43,101.34 546.97,92.96 546.97,92.96" fill="#0000ff"/>
<polygon points="555.57,103.36 555.57,103.36 552.32,102.55 553.85,101.28" fill="#0000bf"/>
<polygon points="548.60,94.94 547.14,96.14 546.97,92.96 546.97,92.96" fill="#4747ff"/>
<polygon points="557.77,101.55 557.77,101.55 549.63,99.52 549.17,91.14 549.17,91.14" fill="#0000ff"/>
<polygon points="557.77,101.55 557.77,101.55 554.51,100.74 556.05,99.47" fill="#0000bf"/>
<polygon points="550.80,93.12 549.34,94.33 549.17,91.14 549.17,91.14" fill="#4747ff"/>
<polygon points="560.17,99.56 560.17,99.56 552.03,97.53 551.58,89.15 551.58,89.15" fill="#0000ff"/>
<polygon points="560.17,99.56 560.17,99.56 556.92,98.75 558.45,97.48" fill="#0000bf"/>
<polygon points="553.21,91.13 551.75,92.34 551.58,89.15 551.58,89.15" fill="#4747ff"/>
<polygon points="563.42,96.88 563.42,96.88 555.29,94.85 554.84,86.47 554.84,86.47" fill="#0000ff"/>
<polygon points="563.42,96.88 563.42,96.88 560.17,96.07 561.71,94.80" fill="#0000bf"/>
<polygon points="556.47,88.44 555.01,89.65 554.84,86.47 554.84,86.47" fill="#4747ff"/>
<polygon points="578.43,84.56 567.22,93.75 559.09,91.71 558.65,83.33 569.88,74.11" fill="#0000ff"/>
<polygon points="578.43,84.56 567.22,93.75 563.97,92.93 576.72,82.47" fill="#0000bf"/>
<polygon points="571.50,76.10 558.81,86.51 558.65,83.33 569.88,74.11" fill="#4747ff"/>
<polygon points="615.23,54.68 601.83,65.51 593.71,63.40 593.33,55.02 606.77,44.16" fill="#0000ff"/>
<polygon points="615.23,54.68 601.83,65.51 598.58,64.66 613.54,52.57" fill="#0000bf"/>
<polygon points="608.37,46.16 593.47,58.20 593.33,55.02 606.77,44.16" fill="#4747ff"/>
<g stroke="#008000" stroke-width="2.05" stroke-linecap="round"><line x1="-110.77" y1="652.85" x2="-114.56" y2="649.43"/><line x1="-45.37" y1="711.88" x2="-42.03" y2="714.89"/><line x1="-100.38" y1="641.37" x2="-101.12" y2="640.69"/><line x1="-35.88" y1="699.89" x2="-35.14" y2="700.56"/><line x1="-89.96" y1="629.91" x2="-90.70" y2="629.24"/><line x1="-25.61" y1="688.61" x2="-24.87" y2="689.28"/><line x1="-79.51" y1="618.48" x2="-80.25" y2="617.81"/><line x1="-15.31" y1="677.35" x2="-14.58" y2="678.02"/><line x1="-69.04" y1="607.08" x2="-69.77" y2="606.41"/><line x1="-4.99" y1="666.11" x2="-4.25" y2="666.79"/><line x1="-58.53" y1="595.71" x2="-62.27" y2="592.24"/><line x1="6.10" y1="655.58" x2="9.40" y2="658.64"/><line x1="-47.99" y1="584.37" x2="-48.72" y2="583.68"/><line x1="15.75" y1="643.73" x2="16.48" y2="644.41"/><line x1="-37.42" y1="573.05" x2="-38.15" y2="572.36"/><line x1="26.17" y1="632.57" x2="26.90" y2="633.26"/><line x1="-26.82" y1="561.76" x2="-27.55" y2="561.07"/><line x1="36.61" y1="621.45" x2="37.34" y2="622.13"/><line x1="-16.20" y1="550.49" x2="-16.92" y2="549.81"/><line x1="47.08" y1="610.35" x2="47.81" y2="611.04"/><line x1="-5.54" y1="539.26" x2="-9.23" y2="535.74"/><line x1="58.30" y1="599.97" x2="61.57" y2="603.07"/><line x1="5.15" y1="528.05" x2="4.42" y2="527.36"/><line x1="68.11" y1="588.23" x2="68.83" y2="588.93"/><line x1="15.86" y1="516.87" x2="15.14" y2="516.18"/><line x1="78.67" y1="577.22" x2="79.39" y2="577.91"/><line x1="26.60" y1="505.72" x2="25.88" y2="505.02"/><line x1="89.25" y1="566.23" x2="89.97" y2="566.92"/><line x1="37.38" y1="494.59" x2="36.66" y2="493.90"/><line x1="99.87" y1="555.27" x2="100.58" y2="555.96"/><line x1="48.18" y1="483.50" x2="44.53" y2="479.94"/><line x1="111.23" y1="545.03" x2="114.45" y2="548.18"/><line x1="59.01" y1="472.43" x2="58.29" y2="471.73"/><line x1="121.18" y1="533.43" x2="121.90" y2="534.13"/><line x1="69.87" y1="461.39" x2="69.15" y2="460.69"/><line x1="131.88" y1="522.55" x2="132.59" y2="523.25"/><line x1="80.75" y1="450.38" x2="80.04" y2="449.68"/><line x1="142.61" y1="511.70" x2="143.32" y2="512.40"/><line x1="91.67" y1="439.40" x2="90.96" y2="438.69"/><line x1="153.37" y1="500.88" x2="154.08" y2="501.58"/><line x1="102.61" y1="428.44" x2="99.01" y2="424.83"/><line x1="164.86" y1="490.79" x2="168.04" y2="493.98"/><line x1="113.59" y1="417.52" x2="112.88" y2="416.81"/><line x1="174.96" y1="479.32" x2="175.67" y2="480.03"/><line x1="124.59" y1="406.62" x2="123.89" y2="405.91"/><line x1="185.80" y1="468.58" x2="186.51" y2="469.29"/><line x1="135.62" y1="395.75" x2="134.92" y2="395.04"/><line x1="196.67" y1="457.87" x2="197.37" y2="458.58"/><line x1="146.68" y1="384.91" x2="145.98" y2="384.20"/><line x1="207.57" y1="447.19" x2="208.27" y2="447.90"/><line x1="157.76" y1="374.10" x2="154.21" y2="370.44"/><line x1="219.19" y1="437.25" x2="222.33" y2="440.48"/><line x1="168.88" y1="363.32" x2="168.18" y2="362.60"/><line x1="229.44" y1="425.91" x2="230.14" y2="426.63"/><line x1="180.02" y1="352.56" x2="179.33" y2="351.84"/><line x1="240.42" y1="415.31" x2="241.12" y2="416.04"/><line x1="191.19" y1="341.84" x2="190.50" y2="341.12"/><line x1="251.43" y1="404.75" x2="252.12" y2="405.47"/><line x1="202.39" y1="331.14" x2="201.70" y2="330.42"/><line x1="262.46" y1="394.21" x2="263.15" y2="394.93"/><line x1="213.61" y1="320.48" x2="210.11" y2="316.78"/><line x1="274.21" y1="384.42" x2="277.31" y2="387.69"/><line x1="224.87" y1="309.84" x2="224.18" y2="309.11"/><line x1="284.62" y1="373.22" x2="285.30" y2="373.94"/><line x1="236.15" y1="299.23" x2="235.46" y2="298.50"/><line x1="295.73" y1="362.76" x2="296.42" y2="363.49"/><line x1="247.46" y1="288.65" x2="246.77" y2="287.92"/><line x1="306.87" y1="352.34" x2="307.56" y2="353.07"/><line x1="258.79" y1="278.11" x2="258.11" y2="277.37"/><line x1="318.04" y1="341.95" x2="318.72" y2="342.68"/><line x1="270.16" y1="267.59" x2="266.70" y2="263.84"/><line x1="329.92" y1="332.32" x2="332.97" y2="335.62"/><line x1="281.55" y1="257.10" x2="280.87" y2="256.36"/><line x1="340.47" y1="321.24" x2="341.14" y2="321.98"/><line x1="292.97" y1="246.64" x2="292.29" y2="245.90"/><line x1="351.72" y1="310.94" x2="352.39" y2="311.68"/><line x1="304.41" y1="236.21" x2="303.74" y2="235.47"/><line x1="363.00" y1="300.66" x2="363.67" y2="301.40"/><line x1="315.88" y1="225.81" x2="315.21" y2="225.06"/><line x1="374.30" y1="290.41" x2="374.97" y2="291.15"/><line x1="327.38" y1="215.44" x2="323.97" y2="211.64"/><line x1="386.30" y1="280.94" x2="389.31" y2="284.28"/><line x1="338.91" y1="205.09" x2="338.24" y2="204.35"/><line x1="396.99" y1="270.00" x2="397.66" y2="270.75"/><line x1="350.46" y1="194.78" x2="349.80" y2="194.04"/><line x1="408.37" y1="259.84" x2="409.04" y2="260.59"/><line x1="362.04" y1="184.50" x2="361.38" y2="183.75"/><line x1="419.78" y1="249.71" x2="420.45" y2="250.46"/><line x1="373.65" y1="174.25" x2="372.99" y2="173.50"/><line x1="431.22" y1="239.61" x2="431.88" y2="240.36"/><line x1="385.28" y1="164.03" x2="381.92" y2="160.20"/><line x1="443.34" y1="230.29" x2="446.31" y2="233.68"/><line x1="396.94" y1="153.84" x2="396.28" y2="153.09"/><line x1="454.17" y1="219.50" x2="454.83" y2="220.25"/><line x1="408.63" y1="143.68" x2="407.97" y2="142.93"/><line x1="465.69" y1="209.49" x2="466.34" y2="210.25"/><line x1="420.34" y1="133.55" x2="419.69" y2="132.80"/><line x1="477.23" y1="199.51" x2="477.88" y2="200.27"/><line x1="432.08" y1="123.46" x2="431.43" y2="122.70"/><line x1="488.80" y1="189.56" x2="489.45" y2="190.32"/><line x1="443.84" y1="113.39" x2="440.53" y2="109.51"/><line x1="501.04" y1="180.40" x2="503.96" y2="183.82"/><line x1="455.63" y1="103.35" x2="454.99" y2="102.59"/><line x1="512.01" y1="169.75" x2="512.65" y2="170.51"/><line x1="467.45" y1="93.34" x2="466.81" y2="92.58"/><line x1="523.65" y1="159.89" x2="524.30" y2="160.65"/><line x1="479.30" y1="83.37" x2="478.65" y2="82.60"/><line x1="535.32" y1="150.06" x2="535.97" y2="150.82"/><line x1="491.16" y1="73.42" x2="490.52" y2="72.65"/><line x1="547.02" y1="140.26" x2="547.66" y2="141.02"/><line x1="503.06" y1="63.51" x2="499.80" y2="59.59"/><line x1="559.38" y1="131.26" x2="562.25" y2="134.72"/><line x1="514.98" y1="53.62" x2="514.34" y2="52.85"/><line x1="570.49" y1="120.75" x2="571.12" y2="121.52"/><line x1="526.93" y1="43.77" x2="526.29" y2="43.00"/><line x1="582.26" y1="111.04" x2="582.89" y2="111.81"/><line x1="538.90" y1="33.95" x2="538.27" y2="33.18"/><line x1="594.05" y1="101.36" x2="594.69" y2="102.14"/><line x1="550.90" y1="24.16" x2="550.27" y2="23.38"/><line x1="605.88" y1="91.72" x2="606.51" y2="92.49"/><line x1="562.92" y1="14.40" x2="559.71" y2="10.44"/><line x1="618.35" y1="82.88" x2="621.18" y2="86.37"/><line x1="574.97" y1="4.67" x2="574.34" y2="3.90"/><line x1="629.59" y1="72.51" x2="630.22" y2="73.29"/><line x1="587.04" y1="-5.02" x2="586.42" y2="-5.80"/><line x1="641.49" y1="62.96" x2="642.12" y2="63.74"/><line x1="599.14" y1="-14.69" x2="598.52" y2="-15.47"/><line x1="653.41" y1="53.44" x2="654.04" y2="54.22"/><line x1="611.26" y1="-24.32" x2="610.64" y2="-25.10"/><line x1="665.36" y1="43.94" x2="665.98" y2="44.73"/><line x1="623.41" y1="-33.92" x2="620.26" y2="-37.93"/><line x1="677.95" y1="35.27" x2="680.74" y2="38.80"/><line x1="635.59" y1="-43.49" x2="634.97" y2="-44.28"/><line x1="689.33" y1="25.05" x2="689.94" y2="25.84"/><line x1="647.79" y1="-53.03" x2="647.17" y2="-53.82"/><line x1="701.35" y1="15.65" x2="701.96" y2="16.44"/><line x1="660.01" y1="-62.54" x2="659.40" y2="-63.33"/><line x1="713.39" y1="6.29" x2="714.00" y2="7.08"/><line x1="672.26" y1="-72.01" x2="671.65" y2="-72.80"/><line x1="725.46" y1="-3.05" x2="726.07" y2="-2.26"/><line x1="684.53" y1="-81.45" x2="681.42" y2="-85.50"/><line x1="738.16" y1="-11.56" x2="740.90" y2="-7.99"/><line x1="696.83" y1="-90.86" x2="696.22" y2="-91.66"/><line x1="749.67" y1="-21.63" x2="750.28" y2="-20.83"/><line x1="709.15" y1="-100.24" x2="708.54" y2="-101.04"/><line x1="761.81" y1="-30.87" x2="762.42" y2="-30.07"/></g>
<g stroke-width="1.1"><line x1="93.30" y1="95.30" x2="254.20" y2="268.18" stroke="#ff0000"/><line x1="104.20" y1="112.50" x2="251.08" y2="271.08" stroke="#ff0000"/><line x1="115.00" y1="130.00" x2="247.96" y2="273.98" stroke="#ff0000"/><line x1="116.70" y1="142.20" x2="243.44" y2="278.18" stroke="#ff0000"/><line x1="126.50" y1="160.40" x2="239.68" y2="281.69" stroke="#ff0000"/><line x1="137.50" y1="177.50" x2="236.97" y2="284.22" stroke="#ff0000"/><line x1="149.20" y1="194.20" x2="235.15" y2="285.92" stroke="#ff0000"/><line x1="159.00" y1="211.20" x2="231.93" y2="288.94" stroke="#ff0000"/><line x1="159.00" y1="225.50" x2="226.76" y2="293.78" stroke="#ff0000"/><line x1="207.00" y1="181.50" x2="271.56" y2="252.15" stroke="#ff0000"/><line x1="203.00" y1="198.00" x2="261.47" y2="261.45" stroke="#ff0000"/><line x1="250.50" y1="208.00" x2="281.62" y2="242.92" stroke="#ff0000"/><line x1="221.70" y1="87.20" x2="325.73" y2="202.93" stroke="#ff0000"/><line x1="231.30" y1="105.30" x2="321.89" y2="206.39" stroke="#ff0000"/><line x1="232.50" y1="118.00" x2="316.73" y2="211.03" stroke="#ff0000"/><line x1="233.30" y1="130.50" x2="311.10" y2="216.11" stroke="#ff0000"/><line x1="233.00" y1="144.70" x2="303.76" y2="222.76" stroke="#ff0000"/><line x1="231.20" y1="160.00" x2="295.31" y2="230.42" stroke="#ff0000"/><line x1="297.70" y1="166.20" x2="328.85" y2="200.14" stroke="#ff0000"/><line x1="315.00" y1="151.30" x2="343.49" y2="187.07" stroke="#ff0000"/><line x1="299.20" y1="98.70" x2="364.27" y2="168.66" stroke="#ff0000"/><line x1="304.70" y1="80.30" x2="374.64" y2="159.53" stroke="#ff0000"/><line x1="353.30" y1="117.20" x2="377.51" y2="157.02" stroke="#ff0000"/><line x1="369.20" y1="103.70" x2="394.85" y2="141.87" stroke="#ff0000"/><line x1="387.50" y1="88.00" x2="398.98" y2="138.28" stroke="#ff0000"/><line x1="403.30" y1="74.20" x2="404.29" y2="133.68" stroke="#ff0000"/><line x1="420.30" y1="60.00" x2="408.95" y2="129.65" stroke="#ff0000"/><line x1="439.70" y1="43.30" x2="455.58" y2="89.76" stroke="#ff0000"/><line x1="66.30" y1="273.00" x2="153.82" y2="363.43" stroke="#ff0000"/><line x1="63.30" y1="289.20" x2="144.30" y2="372.69" stroke="#ff0000"/><line x1="48.70" y1="304.20" x2="129.94" y2="386.75" stroke="#ff0000"/><line x1="47.50" y1="318.30" x2="121.93" y2="394.63" stroke="#ff0000"/><line x1="49.20" y1="331.30" x2="116.95" y2="399.55" stroke="#ff0000"/><line x1="87.50" y1="307.00" x2="148.15" y2="368.94" stroke="#ff0000"/><line x1="177.00" y1="276.70" x2="220.48" y2="299.68" stroke="#ff0000"/><line x1="161.30" y1="293.00" x2="185.19" y2="333.19" stroke="#ff0000"/><line x1="147.50" y1="306.70" x2="174.77" y2="343.18" stroke="#ff0000"/><line x1="133.30" y1="320.30" x2="162.45" y2="355.06" stroke="#ff0000"/><line x1="69.70" y1="381.00" x2="113.88" y2="402.58" stroke="#ff0000"/><line x1="53.20" y1="397.20" x2="106.75" y2="409.65" stroke="#ff0000"/><line x1="36.00" y1="414.70" x2="95.48" y2="420.87" stroke="#ff0000"/><line x1="534.20" y1="242.50" x2="495.74" y2="197.70" stroke="#0000ff"/><line x1="503.30" y1="255.40" x2="483.50" y2="208.23" stroke="#0000ff"/><line x1="487.00" y1="269.60" x2="456.77" y2="231.44" stroke="#0000ff"/><line x1="472.20" y1="282.50" x2="441.52" y2="244.80" stroke="#0000ff"/><line x1="453.30" y1="300.00" x2="430.15" y2="254.83" stroke="#0000ff"/><line x1="438.00" y1="314.20" x2="426.66" y2="257.92" stroke="#0000ff"/><line x1="418.30" y1="330.80" x2="422.73" y2="261.40" stroke="#0000ff"/><line x1="405.80" y1="340.80" x2="408.27" y2="274.27" stroke="#0000ff"/><line x1="387.00" y1="358.75" x2="404.75" y2="277.42" stroke="#0000ff"/><line x1="370.50" y1="373.75" x2="360.44" y2="317.46" stroke="#0000ff"/><line x1="340.00" y1="402.00" x2="286.32" y2="386.32" stroke="#0000ff"/><line x1="323.25" y1="417.50" x2="281.18" y2="391.18" stroke="#0000ff"/><line x1="308.75" y1="431.25" x2="277.02" y2="395.13" stroke="#0000ff"/><line x1="294.25" y1="445.00" x2="270.49" y2="401.34" stroke="#0000ff"/><line x1="278.00" y1="461.25" x2="263.45" y2="408.06" stroke="#0000ff"/><line x1="220.00" y1="518.00" x2="152.11" y2="517.31" stroke="#0000ff"/><line x1="204.80" y1="533.50" x2="147.98" y2="521.48" stroke="#0000ff"/><line x1="189.90" y1="547.30" x2="140.58" y2="528.97" stroke="#0000ff"/><line x1="173.30" y1="563.30" x2="133.43" y2="536.23" stroke="#0000ff"/><line x1="157.90" y1="580.70" x2="126.59" y2="543.20" stroke="#0000ff"/></g>
<g fill="#fff" fill-opacity="0.7"><rect x="41.64" y="85.10" width="51.86" height="11.1"/><rect x="50.04" y="102.20" width="52.26" height="11.1"/><rect x="62.04" y="120.10" width="52.26" height="11.1"/><rect x="62.74" y="131.90" width="52.46" height="11.1"/><rect x="72.74" y="149.70" width="52.46" height="11.1"/><rect x="84.04" y="167.20" width="52.26" height="11.1"/><rect x="95.64" y="183.90" width="52.86" height="11.1"/><rect x="136.08" y="200.90" width="22.92" height="11.1"/><rect x="136.61" y="215.10" width="20.69" height="11.1"/><rect x="152.74" y="171.40" width="52.46" height="11.1"/><rect x="180.70" y="188.90" width="21.60" height="11.1"/><rect x="226.56" y="198.90" width="22.74" height="11.1"/><rect x="167.64" y="77.20" width="52.86" height="11.1"/><rect x="178.64" y="95.10" width="51.86" height="11.1"/><rect x="177.74" y="107.20" width="52.46" height="11.1"/><rect x="180.04" y="120.20" width="52.26" height="11.1"/><rect x="179.04" y="134.20" width="52.26" height="11.1"/><rect x="177.04" y="148.90" width="52.26" height="11.1"/><rect x="244.24" y="156.10" width="52.46" height="11.1"/><rect x="260.14" y="140.90" width="52.86" height="11.1"/><rect x="246.64" y="88.10" width="51.86" height="11.1"/><rect x="250.14" y="70.10" width="52.86" height="11.1"/><rect x="299.74" y="107.20" width="52.46" height="11.1"/><rect x="315.04" y="92.70" width="52.26" height="11.1"/><rect x="334.04" y="76.70" width="52.26" height="11.1"/><rect x="350.04" y="63.90" width="52.26" height="11.1"/><rect x="365.64" y="48.90" width="52.86" height="11.1"/><rect x="405.14" y="33.40" width="32.16" height="11.1"/><rect x="42.83" y="263.60" width="22.37" height="11.1"/><rect x="8.14" y="278.90" width="52.86" height="11.1"/><rect x="23.47" y="295.20" width="24.23" height="11.1"/><rect x="13.53" y="309.40" width="31.67" height="11.1"/><rect x="25.99" y="321.10" width="22.51" height="11.1"/><rect x="73.77" y="296.70" width="12.23" height="11.1"/><rect x="153.82" y="267.20" width="22.18" height="11.1"/><rect x="107.74" y="282.20" width="52.46" height="11.1"/><rect x="94.04" y="296.10" width="52.26" height="11.1"/><rect x="108.10" y="310.10" width="22.90" height="11.1"/><rect x="35.70" y="372.10" width="31.60" height="11.1"/><rect x="31.61" y="388.60" width="20.69" height="11.1"/><rect x="14.04" y="406.10" width="21.16" height="11.1"/><rect x="534.80" y="235.90" width="52.26" height="11.1"/><rect x="504.80" y="250.15" width="52.26" height="11.1"/><rect x="488.00" y="263.80" width="52.66" height="11.1"/><rect x="472.30" y="278.10" width="11.93" height="11.1"/><rect x="453.70" y="293.90" width="52.06" height="11.1"/><rect x="438.70" y="308.90" width="18.83" height="11.1"/><rect x="419.80" y="324.70" width="52.26" height="11.1"/><rect x="407.00" y="337.20" width="23.09" height="11.1"/><rect x="387.25" y="353.10" width="52.16" height="11.1"/><rect x="371.50" y="368.40" width="52.66" height="11.1"/><rect x="342.00" y="397.15" width="23.60" height="11.1"/><rect x="324.75" y="412.40" width="22.94" height="11.1"/><rect x="309.50" y="426.40" width="20.04" height="11.1"/><rect x="296.00" y="440.65" width="20.04" height="11.1"/><rect x="279.75" y="455.15" width="52.16" height="11.1"/><rect x="220.30" y="512.90" width="52.26" height="11.1"/><rect x="205.70" y="528.10" width="52.06" height="11.1"/><rect x="190.50" y="542.70" width="52.66" height="11.1"/><rect x="175.00" y="558.70" width="22.75" height="11.1"/><rect x="158.50" y="574.70" width="52.66" height="11.1"/></g>
<g class="lab"><text transform="translate(94.50,94.10) scale(0.86,1)" text-anchor="end" fill="#ff0000" stroke="#ff0000">PSEEN4882</text><text transform="translate(102.90,111.20) scale(0.86,1)" text-anchor="end" fill="#ff0000" stroke="#ff0000">PSEEN4881</text><text transform="translate(114.90,129.10) scale(0.86,1)" text-anchor="end" fill="#ff0000" stroke="#ff0000">PSEEN4879</text><text transform="translate(115.60,140.90) scale(0.86,1)" text-anchor="end" fill="#ff0000" stroke="#ff0000">PSEEN4878</text><text transform="translate(125.60,158.70) scale(0.86,1)" text-anchor="end" fill="#ff0000" stroke="#ff0000">PSEEN4877</text><text transform="translate(136.90,176.20) scale(0.86,1)" text-anchor="end" fill="#ff0000" stroke="#ff0000">PSEEN4876</text><text transform="translate(148.50,192.90) scale(0.86,1)" text-anchor="end" fill="#ff0000" stroke="#ff0000">PSEEN4875</text><text transform="translate(159.00,209.90) scale(0.86,1)" text-anchor="end" fill="#ff0000" stroke="#ff0000">cobK</text><text transform="translate(157.90,224.10) scale(0.86,1)" text-anchor="end" fill="#ff0000" stroke="#ff0000">cbiD</text><text transform="translate(205.60,180.40) scale(0.86,1)" text-anchor="end" fill="#ff0000" stroke="#ff0000">PSEEN4884</text><text transform="translate(202.90,197.90) scale(0.86,1)" text-anchor="end" fill="#ff0000" stroke="#ff0000">oprC</text><text transform="translate(248.90,207.90) scale(0.86,1)" text-anchor="end" fill="#ff0000" stroke="#ff0000">cycA</text><text transform="translate(220.50,86.20) scale(0.86,1)" text-anchor="end" fill="#ff0000" stroke="#ff0000">PSEEN4893</text><text transform="translate(231.50,104.10) scale(0.86,1)" text-anchor="end" fill="#ff0000" stroke="#ff0000">PSEEN4892</text><text transform="translate(230.60,116.20) scale(0.86,1)" text-anchor="end" fill="#ff0000" stroke="#ff0000">PSEEN4891</text><text transform="translate(232.90,129.20) scale(0.86,1)" text-anchor="end" fill="#ff0000" stroke="#ff0000">PSEEN4890</text><text transform="translate(231.90,143.20) scale(0.86,1)" text-anchor="end" fill="#ff0000" stroke="#ff0000">PSEEN4889</text><text transform="translate(229.90,157.90) scale(0.86,1)" text-anchor="end" fill="#ff0000" stroke="#ff0000">PSEEN4888</text><text transform="translate(297.10,165.10) scale(0.86,1)" text-anchor="end" fill="#ff0000" stroke="#ff0000">PSEEN4894</text><text transform="translate(313.00,149.90) scale(0.86,1)" text-anchor="end" fill="#ff0000" stroke="#ff0000">PSEEN4897</text><text transform="translate(299.50,97.10) scale(0.86,1)" text-anchor="end" fill="#ff0000" stroke="#ff0000">PSEEN4902</text><text transform="translate(303.00,79.10) scale(0.86,1)" text-anchor="end" fill="#ff0000" stroke="#ff0000">PSEEN4904</text><text transform="translate(352.60,116.20) scale(0.86,1)" text-anchor="end" fill="#ff0000" stroke="#ff0000">PSEEN4905</text><text transform="translate(367.90,101.70) scale(0.86,1)" text-anchor="end" fill="#ff0000" stroke="#ff0000">PSEEN4907</text><text transform="translate(386.90,85.70) scale(0.86,1)" text-anchor="end" fill="#ff0000" stroke="#ff0000">PSEEN4908</text><text transform="translate(402.90,72.90) scale(0.86,1)" text-anchor="end" fill="#ff0000" stroke="#ff0000">PSEEN4909</text><text transform="translate(418.50,57.90) scale(0.86,1)" text-anchor="end" fill="#ff0000" stroke="#ff0000">PSEEN4910</text><text transform="translate(437.90,42.40) scale(0.86,1)" text-anchor="end" fill="#ff0000" stroke="#ff0000">pncB-1</text><text transform="translate(65.60,272.60) scale(0.86,1)" text-anchor="end" fill="#ff0000" stroke="#ff0000">purH</text><text transform="translate(61.00,287.90) scale(0.86,1)" text-anchor="end" fill="#ff0000" stroke="#ff0000">PSEEN4861</text><text transform="translate(48.10,304.20) scale(0.86,1)" text-anchor="end" fill="#ff0000" stroke="#ff0000">prmA</text><text transform="translate(45.60,318.40) scale(0.86,1)" text-anchor="end" fill="#ff0000" stroke="#ff0000">accC-1</text><text transform="translate(48.50,330.10) scale(0.86,1)" text-anchor="end" fill="#ff0000" stroke="#ff0000">accB</text><text transform="translate(86.00,305.70) scale(0.86,1)" text-anchor="end" fill="#ff0000" stroke="#ff0000">fis</text><text transform="translate(176.00,276.20) scale(0.86,1)" text-anchor="end" fill="#ff0000" stroke="#ff0000">cobL</text><text transform="translate(160.60,291.20) scale(0.86,1)" text-anchor="end" fill="#ff0000" stroke="#ff0000">PSEEN4866</text><text transform="translate(146.90,305.10) scale(0.86,1)" text-anchor="end" fill="#ff0000" stroke="#ff0000">PSEEN4865</text><text transform="translate(131.00,319.10) scale(0.86,1)" text-anchor="end" fill="#ff0000" stroke="#ff0000">purD</text><text transform="translate(67.90,381.10) scale(0.86,1)" text-anchor="end" fill="#ff0000" stroke="#ff0000">aroQ-1</text><text transform="translate(52.90,397.60) scale(0.86,1)" text-anchor="end" fill="#ff0000" stroke="#ff0000">dipZ</text><text transform="translate(34.60,415.10) scale(0.86,1)" text-anchor="end" fill="#ff0000" stroke="#ff0000">ctpL</text><text transform="translate(535.40,244.90) scale(0.86,1)" fill="#0000ff" stroke="#0000ff">PSEEN4914</text><text transform="translate(505.40,259.15) scale(0.86,1)" fill="#0000ff" stroke="#0000ff">PSEEN4911</text><text transform="translate(489.00,272.80) scale(0.86,1)" fill="#0000ff" stroke="#0000ff">PSEEN4906</text><text transform="translate(472.90,287.10) scale(0.86,1)" fill="#0000ff" stroke="#0000ff">lip</text><text transform="translate(454.10,302.90) scale(0.86,1)" fill="#0000ff" stroke="#0000ff">PSEEN4900</text><text transform="translate(439.10,317.90) scale(0.86,1)" fill="#0000ff" stroke="#0000ff">psiF</text><text transform="translate(420.40,333.70) scale(0.86,1)" fill="#0000ff" stroke="#0000ff">PSEEN4898</text><text transform="translate(408.00,346.20) scale(0.86,1)" fill="#0000ff" stroke="#0000ff">cbpA</text><text transform="translate(387.75,362.10) scale(0.86,1)" fill="#0000ff" stroke="#0000ff">PSEEN4895</text><text transform="translate(372.50,377.40) scale(0.86,1)" fill="#0000ff" stroke="#0000ff">PSEEN4886</text><text transform="translate(343.00,406.15) scale(0.86,1)" fill="#0000ff" stroke="#0000ff">cobG</text><text transform="translate(325.25,421.40) scale(0.86,1)" fill="#0000ff" stroke="#0000ff">cobH</text><text transform="translate(310.50,435.40) scale(0.86,1)" fill="#0000ff" stroke="#0000ff">cobI</text><text transform="translate(297.00,449.65) scale(0.86,1)" fill="#0000ff" stroke="#0000ff">cobJ</text><text transform="translate(280.25,464.15) scale(0.86,1)" fill="#0000ff" stroke="#0000ff">PSEEN4867</text><text transform="translate(220.90,521.90) scale(0.86,1)" fill="#0000ff" stroke="#0000ff">PSEEN4851</text><text transform="translate(206.10,537.10) scale(0.86,1)" fill="#0000ff" stroke="#0000ff">PSEEN4850</text><text transform="translate(191.50,551.70) scale(0.86,1)" fill="#0000ff" stroke="#0000ff">PSEEN4848</text><text transform="translate(176.00,567.70) scale(0.86,1)" fill="#0000ff" stroke="#0000ff">speA</text><text transform="translate(159.50,583.70) scale(0.86,1)" fill="#0000ff" stroke="#0000ff">PSEEN4846</text></g>
<g class="kbp"><rect x="109.50" y="552.80" width="39" height="10.8" fill="#fff" fill-opacity="0.6"/><text x="110.50" y="561.00">5150 kbp</text><rect x="162.50" y="498.30" width="39" height="10.8" fill="#fff" fill-opacity="0.6"/><text x="163.50" y="506.50">5160 kbp</text><rect x="216.50" y="445.80" width="39" height="10.8" fill="#fff" fill-opacity="0.6"/><text x="217.50" y="454.00">5170 kbp</text><rect x="271.70" y="392.60" width="39" height="10.8" fill="#fff" fill-opacity="0.6"/><text x="272.70" y="400.80">5180 kbp</text><rect x="327.50" y="340.80" width="39" height="10.8" fill="#fff" fill-opacity="0.6"/><text x="328.50" y="349.00">5190 kbp</text><rect x="383.50" y="289.80" width="39" height="10.8" fill="#fff" fill-opacity="0.6"/><text x="384.50" y="298.00">5200 kbp</text><rect x="439.50" y="239.80" width="39" height="10.8" fill="#fff" fill-opacity="0.6"/><text x="440.50" y="248.00">5210 kbp</text><rect x="497.50" y="189.80" width="39" height="10.8" fill="#fff" fill-opacity="0.6"/><text x="498.50" y="198.00">5220 kbp</text><rect x="555.50" y="140.80" width="39" height="10.8" fill="#fff" fill-opacity="0.6"/><text x="556.50" y="149.00">5230 kbp</text></g>
<rect x="4.8" y="570.8" width="143" height="23.7" fill="#fff" fill-opacity="0.75"/>
<text class="leg" x="9" y="586.5">Accession: NC_008027</text>
<text class="leg" x="592" y="586.5" text-anchor="end">Topology: circular; Length: 5,888,780 bp; Genes: 5,241</text>
<text class="ttl" x="299.5" y="22.6" text-anchor="middle">Pseudomonas entomophila L48, complete genome</text>
</svg>
</body></html>
